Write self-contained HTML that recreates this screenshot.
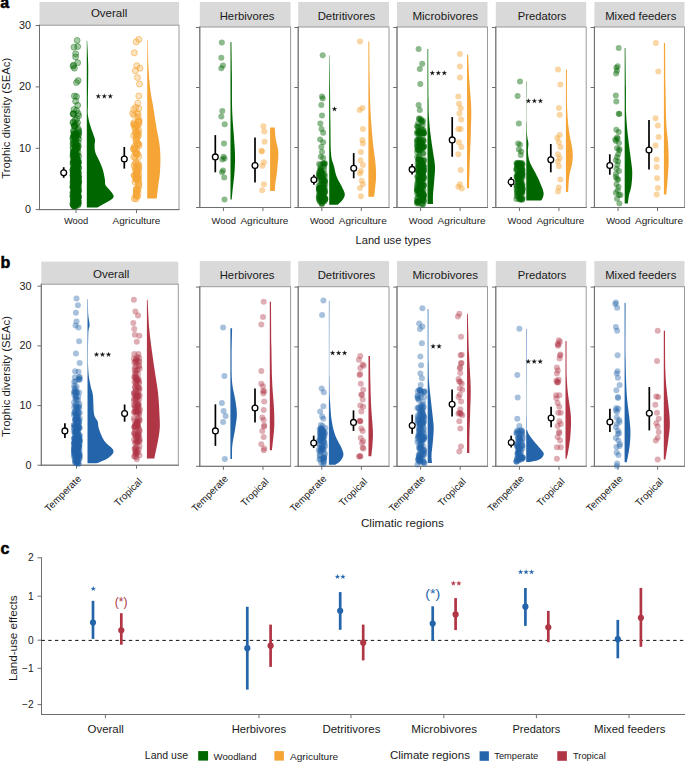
<!DOCTYPE html>
<html><head><meta charset="utf-8"><style>
html,body{margin:0;padding:0;background:#fff;width:685px;height:762px;overflow:hidden;}
svg{display:block;}
text{font-family:"Liberation Sans", sans-serif;}
</style></head><body>
<svg width="685" height="762" viewBox="0 0 685 762" font-family='"Liberation Sans", sans-serif'>
<rect width="685" height="762" fill="#fff"/>
<text x="0.2" y="8.4" font-size="16" text-anchor="start" font-weight="bold" fill="#000" stroke="#000" stroke-width="0.5">a</text>
<text x="0.6" y="267.7" font-size="16" text-anchor="start" font-weight="bold" fill="#000" stroke="#000" stroke-width="0.5">b</text>
<text x="0.6" y="554.2" font-size="16" text-anchor="start" font-weight="bold" fill="#000" stroke="#000" stroke-width="0.5">c</text>
<rect x="39.5" y="2" width="139.5" height="23.2" fill="#d9d9d9"/>
<text x="109.1" y="17.1" font-size="11.3" text-anchor="middle" font-weight="normal" fill="#1a1a1a"  textLength="36.4" lengthAdjust="spacingAndGlyphs">Overall</text>
<rect x="39.5" y="25.2" width="139.5" height="184.4" fill="none" stroke="#9a9a9a" stroke-width="1"/>
<line x1="39.5" y1="24.7" x2="39.5" y2="210.1" stroke="#6e6e6e" stroke-width="1" />
<line x1="39" y1="209.6" x2="179.5" y2="209.6" stroke="#6e6e6e" stroke-width="1" />
<line x1="35.7" y1="25.5" x2="39.5" y2="25.5" stroke="#6e6e6e" stroke-width="1" />
<line x1="35.7" y1="86.9" x2="39.5" y2="86.9" stroke="#6e6e6e" stroke-width="1" />
<line x1="35.7" y1="148.3" x2="39.5" y2="148.3" stroke="#6e6e6e" stroke-width="1" />
<line x1="35.7" y1="209.6" x2="39.5" y2="209.6" stroke="#6e6e6e" stroke-width="1" />
<line x1="76" y1="209.6" x2="76" y2="213.1" stroke="#6e6e6e" stroke-width="1" />
<line x1="136.5" y1="209.6" x2="136.5" y2="213.1" stroke="#6e6e6e" stroke-width="1" />
<text x="30.9" y="28.9" font-size="10.8" text-anchor="end" font-weight="normal" fill="#1a1a1a" >30</text>
<text x="30.9" y="90.3" font-size="10.8" text-anchor="end" font-weight="normal" fill="#1a1a1a" >20</text>
<text x="30.9" y="151.7" font-size="10.8" text-anchor="end" font-weight="normal" fill="#1a1a1a" >10</text>
<text x="30.9" y="213" font-size="10.8" text-anchor="end" font-weight="normal" fill="#1a1a1a" >0</text>
<text transform="translate(9.6,118.3) rotate(-90)" font-size="11.4" text-anchor="middle" fill="#1a1a1a" textLength="121" lengthAdjust="spacingAndGlyphs">Trophic diversity (SEAc)</text>
<rect x="199.8" y="2" width="90.8" height="25" fill="#d9d9d9"/>
<text x="247.1" y="19.6" font-size="11.3" text-anchor="middle" font-weight="normal" fill="#1a1a1a"  textLength="54.8" lengthAdjust="spacingAndGlyphs">Herbivores</text>
<rect x="199.8" y="27" width="90.8" height="180.5" fill="none" stroke="#9a9a9a" stroke-width="1"/>
<line x1="199.8" y1="26.5" x2="199.8" y2="208" stroke="#6e6e6e" stroke-width="1" />
<line x1="199.3" y1="207.5" x2="291.1" y2="207.5" stroke="#6e6e6e" stroke-width="1" />
<line x1="196" y1="27.5" x2="199.8" y2="27.5" stroke="#6e6e6e" stroke-width="1" />
<line x1="196" y1="87.5" x2="199.8" y2="87.5" stroke="#6e6e6e" stroke-width="1" />
<line x1="196" y1="147.5" x2="199.8" y2="147.5" stroke="#6e6e6e" stroke-width="1" />
<line x1="196" y1="207.5" x2="199.8" y2="207.5" stroke="#6e6e6e" stroke-width="1" />
<line x1="223.4" y1="207.5" x2="223.4" y2="211" stroke="#6e6e6e" stroke-width="1" />
<line x1="262.9" y1="207.5" x2="262.9" y2="211" stroke="#6e6e6e" stroke-width="1" />
<text x="223.7" y="223.9" font-size="9.6" text-anchor="middle" font-weight="normal" fill="#1a1a1a"  textLength="24.3" lengthAdjust="spacingAndGlyphs">Wood</text>
<text x="264.4" y="223.9" font-size="9.9" text-anchor="middle" font-weight="normal" fill="#1a1a1a"  textLength="48" lengthAdjust="spacingAndGlyphs">Agriculture</text>
<rect x="298.2" y="2" width="90.8" height="25" fill="#d9d9d9"/>
<text x="346.4" y="19.6" font-size="11.3" text-anchor="middle" font-weight="normal" fill="#1a1a1a"  textLength="57.5" lengthAdjust="spacingAndGlyphs">Detritivores</text>
<rect x="298.2" y="27" width="90.8" height="180.5" fill="none" stroke="#9a9a9a" stroke-width="1"/>
<line x1="298.2" y1="26.5" x2="298.2" y2="208" stroke="#6e6e6e" stroke-width="1" />
<line x1="297.7" y1="207.5" x2="389.5" y2="207.5" stroke="#6e6e6e" stroke-width="1" />
<line x1="294.4" y1="27.5" x2="298.2" y2="27.5" stroke="#6e6e6e" stroke-width="1" />
<line x1="294.4" y1="87.5" x2="298.2" y2="87.5" stroke="#6e6e6e" stroke-width="1" />
<line x1="294.4" y1="147.5" x2="298.2" y2="147.5" stroke="#6e6e6e" stroke-width="1" />
<line x1="294.4" y1="207.5" x2="298.2" y2="207.5" stroke="#6e6e6e" stroke-width="1" />
<line x1="321.8" y1="207.5" x2="321.8" y2="211" stroke="#6e6e6e" stroke-width="1" />
<line x1="361.3" y1="207.5" x2="361.3" y2="211" stroke="#6e6e6e" stroke-width="1" />
<text x="322.1" y="223.9" font-size="9.6" text-anchor="middle" font-weight="normal" fill="#1a1a1a"  textLength="24.3" lengthAdjust="spacingAndGlyphs">Wood</text>
<text x="362.8" y="223.9" font-size="9.9" text-anchor="middle" font-weight="normal" fill="#1a1a1a"  textLength="48" lengthAdjust="spacingAndGlyphs">Agriculture</text>
<rect x="397" y="2" width="90.5" height="25" fill="#d9d9d9"/>
<text x="445.25" y="19.6" font-size="11.3" text-anchor="middle" font-weight="normal" fill="#1a1a1a"  textLength="65.7" lengthAdjust="spacingAndGlyphs">Microbivores</text>
<rect x="397" y="27" width="90.5" height="180.5" fill="none" stroke="#9a9a9a" stroke-width="1"/>
<line x1="397" y1="26.5" x2="397" y2="208" stroke="#6e6e6e" stroke-width="1" />
<line x1="396.5" y1="207.5" x2="488" y2="207.5" stroke="#6e6e6e" stroke-width="1" />
<line x1="393.2" y1="27.5" x2="397" y2="27.5" stroke="#6e6e6e" stroke-width="1" />
<line x1="393.2" y1="87.5" x2="397" y2="87.5" stroke="#6e6e6e" stroke-width="1" />
<line x1="393.2" y1="147.5" x2="397" y2="147.5" stroke="#6e6e6e" stroke-width="1" />
<line x1="393.2" y1="207.5" x2="397" y2="207.5" stroke="#6e6e6e" stroke-width="1" />
<line x1="420.6" y1="207.5" x2="420.6" y2="211" stroke="#6e6e6e" stroke-width="1" />
<line x1="460.1" y1="207.5" x2="460.1" y2="211" stroke="#6e6e6e" stroke-width="1" />
<text x="420.9" y="223.9" font-size="9.6" text-anchor="middle" font-weight="normal" fill="#1a1a1a"  textLength="24.3" lengthAdjust="spacingAndGlyphs">Wood</text>
<text x="461.6" y="223.9" font-size="9.9" text-anchor="middle" font-weight="normal" fill="#1a1a1a"  textLength="48" lengthAdjust="spacingAndGlyphs">Agriculture</text>
<rect x="495.8" y="2" width="90.4" height="25" fill="#d9d9d9"/>
<text x="542.1" y="19.6" font-size="11.3" text-anchor="middle" font-weight="normal" fill="#1a1a1a"  textLength="48.5" lengthAdjust="spacingAndGlyphs">Predators</text>
<rect x="495.8" y="27" width="90.4" height="180.5" fill="none" stroke="#9a9a9a" stroke-width="1"/>
<line x1="495.8" y1="26.5" x2="495.8" y2="208" stroke="#6e6e6e" stroke-width="1" />
<line x1="495.3" y1="207.5" x2="586.7" y2="207.5" stroke="#6e6e6e" stroke-width="1" />
<line x1="492" y1="27.5" x2="495.8" y2="27.5" stroke="#6e6e6e" stroke-width="1" />
<line x1="492" y1="87.5" x2="495.8" y2="87.5" stroke="#6e6e6e" stroke-width="1" />
<line x1="492" y1="147.5" x2="495.8" y2="147.5" stroke="#6e6e6e" stroke-width="1" />
<line x1="492" y1="207.5" x2="495.8" y2="207.5" stroke="#6e6e6e" stroke-width="1" />
<line x1="519.4" y1="207.5" x2="519.4" y2="211" stroke="#6e6e6e" stroke-width="1" />
<line x1="558.9" y1="207.5" x2="558.9" y2="211" stroke="#6e6e6e" stroke-width="1" />
<text x="519.7" y="223.9" font-size="9.6" text-anchor="middle" font-weight="normal" fill="#1a1a1a"  textLength="24.3" lengthAdjust="spacingAndGlyphs">Wood</text>
<text x="560.4" y="223.9" font-size="9.9" text-anchor="middle" font-weight="normal" fill="#1a1a1a"  textLength="48" lengthAdjust="spacingAndGlyphs">Agriculture</text>
<rect x="594.4" y="2" width="90.1" height="25" fill="#d9d9d9"/>
<text x="640.75" y="19.6" font-size="11.3" text-anchor="middle" font-weight="normal" fill="#1a1a1a"  textLength="71.1" lengthAdjust="spacingAndGlyphs">Mixed feeders</text>
<rect x="594.4" y="27" width="90.1" height="180.5" fill="none" stroke="#9a9a9a" stroke-width="1"/>
<line x1="594.4" y1="26.5" x2="594.4" y2="208" stroke="#6e6e6e" stroke-width="1" />
<line x1="593.9" y1="207.5" x2="685" y2="207.5" stroke="#6e6e6e" stroke-width="1" />
<line x1="590.6" y1="27.5" x2="594.4" y2="27.5" stroke="#6e6e6e" stroke-width="1" />
<line x1="590.6" y1="87.5" x2="594.4" y2="87.5" stroke="#6e6e6e" stroke-width="1" />
<line x1="590.6" y1="147.5" x2="594.4" y2="147.5" stroke="#6e6e6e" stroke-width="1" />
<line x1="590.6" y1="207.5" x2="594.4" y2="207.5" stroke="#6e6e6e" stroke-width="1" />
<line x1="618" y1="207.5" x2="618" y2="211" stroke="#6e6e6e" stroke-width="1" />
<line x1="657.5" y1="207.5" x2="657.5" y2="211" stroke="#6e6e6e" stroke-width="1" />
<text x="618.3" y="223.9" font-size="9.6" text-anchor="middle" font-weight="normal" fill="#1a1a1a"  textLength="24.3" lengthAdjust="spacingAndGlyphs">Wood</text>
<text x="659" y="223.9" font-size="9.9" text-anchor="middle" font-weight="normal" fill="#1a1a1a"  textLength="48" lengthAdjust="spacingAndGlyphs">Agriculture</text>
<text x="76" y="223.9" font-size="9.6" text-anchor="middle" font-weight="normal" fill="#1a1a1a"  textLength="24.2" lengthAdjust="spacingAndGlyphs">Wood</text>
<text x="136.5" y="223.9" font-size="9.9" text-anchor="middle" font-weight="normal" fill="#1a1a1a"  textLength="47.8" lengthAdjust="spacingAndGlyphs">Agriculture</text>
<text x="393.3" y="243.5" font-size="11.1" text-anchor="middle" font-weight="normal" fill="#1a1a1a"  textLength="75.5" lengthAdjust="spacingAndGlyphs">Land use types</text>
<path d="M86.8,40.7 L87.2,40.7 C87.37,44.92 88.08,55.85 88.2,66 C88.32,76.15 87.95,93.48 87.9,101.6 C87.85,109.72 87.53,110.8 87.9,114.7 C88.27,118.6 89.23,121.82 90.1,125 C90.97,128.18 92.28,131.35 93.1,133.8 C93.92,136.25 94.75,137.73 95,139.7 C95.25,141.67 94.55,143.52 94.6,145.6 C94.65,147.68 94.57,149.75 95.3,152.2 C96.03,154.65 97.78,157.48 99,160.3 C100.22,163.12 101.62,165.92 102.6,169.1 C103.58,172.28 104.4,176.7 104.9,179.4 C105.4,182.1 104.63,183.33 105.6,185.3 C106.57,187.27 109.35,189.37 110.7,191.2 C112.05,193.03 113.7,194.83 113.7,196.3 C113.7,197.77 112.55,198.65 110.7,200 C108.85,201.35 104.8,203.17 102.6,204.4 C100.4,205.63 98.35,206.9 97.5,207.4 L86.8,207.4 Z" fill="#006600"/>
<g fill="#006600" fill-opacity="0.35" stroke="#006600" stroke-opacity="0.55" stroke-width="0.7"><circle cx="77.1" cy="40.4" r="3"/><circle cx="74" cy="47.2" r="3"/><circle cx="77.7" cy="46.6" r="3"/><circle cx="75.6" cy="53.8" r="3"/><circle cx="75.6" cy="56.9" r="3"/><circle cx="77.7" cy="62.7" r="3"/><circle cx="73.6" cy="65.1" r="3"/><circle cx="74.4" cy="68.2" r="3"/><circle cx="73" cy="66.2" r="3"/><circle cx="78.1" cy="80.6" r="3"/><circle cx="76.5" cy="82.6" r="3"/><circle cx="74.4" cy="96" r="3"/><circle cx="76.5" cy="96.6" r="3"/><circle cx="75.6" cy="101.2" r="3"/><circle cx="77.7" cy="105.3" r="3"/><circle cx="74" cy="109.4" r="3"/><circle cx="76.5" cy="110.4" r="3"/><circle cx="73" cy="113.5" r="3"/><circle cx="78.1" cy="113.5" r="3"/><circle cx="75.77" cy="184.18" r="3"/><circle cx="72.97" cy="186.53" r="3"/><circle cx="77.37" cy="190.98" r="3"/><circle cx="78.47" cy="180.19" r="3"/><circle cx="72.95" cy="197.18" r="3"/><circle cx="75.33" cy="148.02" r="3"/><circle cx="74.11" cy="134.03" r="3"/><circle cx="72.93" cy="155.43" r="3"/><circle cx="76.65" cy="191.15" r="3"/><circle cx="74.8" cy="193.26" r="3"/><circle cx="77.78" cy="200.49" r="3"/><circle cx="76.33" cy="175.34" r="3"/><circle cx="75.83" cy="195.39" r="3"/><circle cx="74.26" cy="167.66" r="3"/><circle cx="73.84" cy="187.35" r="3"/><circle cx="75.43" cy="175.74" r="3"/><circle cx="75.74" cy="161.23" r="3"/><circle cx="73.82" cy="168.06" r="3"/><circle cx="77.96" cy="184.81" r="3"/><circle cx="75.55" cy="202.01" r="3"/><circle cx="77.5" cy="202.45" r="3"/><circle cx="78.02" cy="152.27" r="3"/><circle cx="75.83" cy="165.86" r="3"/><circle cx="74.88" cy="157.83" r="3"/><circle cx="72.97" cy="169.88" r="3"/><circle cx="76.31" cy="133.7" r="3"/><circle cx="77.58" cy="193.37" r="3"/><circle cx="77.85" cy="189.15" r="3"/><circle cx="72.9" cy="175.61" r="3"/><circle cx="76.55" cy="135.58" r="3"/><circle cx="73.76" cy="144.55" r="3"/><circle cx="74.44" cy="161.84" r="3"/><circle cx="74.73" cy="179.25" r="3"/><circle cx="75.12" cy="156.77" r="3"/><circle cx="73.45" cy="151.78" r="3"/><circle cx="74.05" cy="197.03" r="3"/><circle cx="73.68" cy="113.97" r="3"/><circle cx="77.03" cy="179.93" r="3"/><circle cx="74.12" cy="176.09" r="3"/><circle cx="76.69" cy="160.82" r="3"/><circle cx="74.31" cy="182.29" r="3"/><circle cx="73.83" cy="202.93" r="3"/><circle cx="75.07" cy="178.53" r="3"/><circle cx="76.84" cy="144.78" r="3"/><circle cx="73.43" cy="152.91" r="3"/><circle cx="75.8" cy="174.93" r="3"/><circle cx="74.01" cy="197.02" r="3"/><circle cx="74.08" cy="185.97" r="3"/><circle cx="78.09" cy="200.09" r="3"/><circle cx="78.71" cy="176.93" r="3"/><circle cx="77.35" cy="198.09" r="3"/><circle cx="76.11" cy="195.85" r="3"/><circle cx="73.24" cy="121.85" r="3"/><circle cx="77.77" cy="193.85" r="3"/><circle cx="76.22" cy="185.89" r="3"/><circle cx="74.4" cy="133.14" r="3"/><circle cx="78.35" cy="196.18" r="3"/><circle cx="77.52" cy="155.26" r="3"/><circle cx="76.82" cy="190.22" r="3"/><circle cx="74.24" cy="195.64" r="3"/><circle cx="73.49" cy="205.38" r="3"/><circle cx="78.26" cy="182.31" r="3"/><circle cx="74.32" cy="197.92" r="3"/><circle cx="76.71" cy="157.08" r="3"/><circle cx="78.7" cy="115.74" r="3"/><circle cx="73.18" cy="154.51" r="3"/><circle cx="74.09" cy="203.65" r="3"/><circle cx="76.05" cy="174.54" r="3"/><circle cx="73.29" cy="141.04" r="3"/><circle cx="74.62" cy="192.05" r="3"/><circle cx="74.26" cy="135.16" r="3"/><circle cx="77.55" cy="172.04" r="3"/><circle cx="78.5" cy="187.13" r="3"/><circle cx="75.89" cy="142.22" r="3"/><circle cx="78.16" cy="198.88" r="3"/><circle cx="78.24" cy="197.34" r="3"/><circle cx="76.94" cy="191.45" r="3"/><circle cx="73.19" cy="175.11" r="3"/><circle cx="75.17" cy="192.45" r="3"/><circle cx="72.95" cy="144" r="3"/><circle cx="76.22" cy="173.09" r="3"/><circle cx="72.84" cy="169.88" r="3"/><circle cx="76.92" cy="173.32" r="3"/><circle cx="75.77" cy="181.12" r="3"/><circle cx="75.27" cy="157.25" r="3"/><circle cx="76.68" cy="198.72" r="3"/><circle cx="76.96" cy="195.44" r="3"/><circle cx="77.01" cy="192.23" r="3"/><circle cx="77.94" cy="181.59" r="3"/><circle cx="76.23" cy="196.73" r="3"/><circle cx="76.89" cy="183.61" r="3"/><circle cx="75.89" cy="179.77" r="3"/><circle cx="74.41" cy="188.35" r="3"/><circle cx="77" cy="191.56" r="3"/><circle cx="77.62" cy="203.78" r="3"/><circle cx="74.75" cy="152.91" r="3"/><circle cx="76.4" cy="202.67" r="3"/><circle cx="74.57" cy="150.58" r="3"/><circle cx="76.57" cy="153.46" r="3"/><circle cx="76.31" cy="163.25" r="3"/><circle cx="75.74" cy="204.01" r="3"/><circle cx="76.22" cy="192.86" r="3"/><circle cx="73.45" cy="148.22" r="3"/><circle cx="77.28" cy="188.31" r="3"/><circle cx="75.82" cy="166.11" r="3"/><circle cx="75.2" cy="154.48" r="3"/><circle cx="75.75" cy="186" r="3"/><circle cx="74.02" cy="173.2" r="3"/><circle cx="78.72" cy="190.38" r="3"/><circle cx="73.82" cy="205.33" r="3"/><circle cx="74.96" cy="170.59" r="3"/><circle cx="77.2" cy="193.39" r="3"/><circle cx="75.76" cy="196.85" r="3"/><circle cx="76.69" cy="182.48" r="3"/><circle cx="76.58" cy="171.5" r="3"/><circle cx="74.39" cy="169.22" r="3"/><circle cx="77.8" cy="163.43" r="3"/><circle cx="74.93" cy="182.38" r="3"/><circle cx="75.84" cy="174.07" r="3"/><circle cx="75.21" cy="201.41" r="3"/><circle cx="74.05" cy="177.1" r="3"/><circle cx="77.78" cy="137.43" r="3"/><circle cx="75.87" cy="161.44" r="3"/><circle cx="76.72" cy="181.62" r="3"/><circle cx="74.13" cy="193.9" r="3"/><circle cx="78.2" cy="191.74" r="3"/><circle cx="75.39" cy="170.82" r="3"/><circle cx="74.37" cy="180.82" r="3"/><circle cx="73.63" cy="161.76" r="3"/><circle cx="77.31" cy="179.64" r="3"/><circle cx="73.44" cy="179.9" r="3"/><circle cx="73.01" cy="196" r="3"/><circle cx="74.85" cy="203.11" r="3"/><circle cx="76.96" cy="191.18" r="3"/><circle cx="73.81" cy="158.78" r="3"/><circle cx="75.1" cy="193.04" r="3"/><circle cx="78.28" cy="183.68" r="3"/><circle cx="75.08" cy="174.82" r="3"/><circle cx="74.44" cy="191.44" r="3"/><circle cx="72.97" cy="123.1" r="3"/><circle cx="76.59" cy="174.66" r="3"/><circle cx="78.41" cy="134.97" r="3"/><circle cx="76.43" cy="167.8" r="3"/><circle cx="73.16" cy="164.94" r="3"/><circle cx="73.12" cy="192.76" r="3"/><circle cx="78.71" cy="156.34" r="3"/><circle cx="75.17" cy="153.9" r="3"/><circle cx="75.11" cy="120.11" r="3"/><circle cx="73.58" cy="181.23" r="3"/><circle cx="75.35" cy="192.88" r="3"/><circle cx="76.72" cy="167.2" r="3"/><circle cx="78.18" cy="178.27" r="3"/><circle cx="73.74" cy="190.59" r="3"/><circle cx="77.69" cy="166.33" r="3"/><circle cx="74.59" cy="173.53" r="3"/><circle cx="75.96" cy="182.73" r="3"/><circle cx="73.61" cy="199.16" r="3"/><circle cx="75.59" cy="172.81" r="3"/><circle cx="73.81" cy="204.59" r="3"/><circle cx="73.4" cy="180.79" r="3"/><circle cx="73.44" cy="163.57" r="3"/><circle cx="73.24" cy="161.74" r="3"/><circle cx="73.84" cy="192.38" r="3"/><circle cx="75.01" cy="193.44" r="3"/><circle cx="74.5" cy="192.1" r="3"/><circle cx="77.99" cy="196.23" r="3"/><circle cx="76.85" cy="196.37" r="3"/><circle cx="77.68" cy="187.43" r="3"/><circle cx="74.01" cy="206.33" r="3"/><circle cx="73.04" cy="187.24" r="3"/><circle cx="73.94" cy="192.43" r="3"/><circle cx="76.58" cy="202.09" r="3"/><circle cx="75.21" cy="165.48" r="3"/><circle cx="75.1" cy="199.43" r="3"/><circle cx="75.54" cy="157.49" r="3"/><circle cx="73.83" cy="151.24" r="3"/><circle cx="78.79" cy="167.72" r="3"/><circle cx="73.58" cy="179.68" r="3"/><circle cx="72.96" cy="203.34" r="3"/><circle cx="77.14" cy="201.98" r="3"/><circle cx="76.47" cy="190.85" r="3"/><circle cx="78.48" cy="162.51" r="3"/><circle cx="76.12" cy="203.63" r="3"/><circle cx="73.32" cy="186.32" r="3"/><circle cx="77.92" cy="197.53" r="3"/><circle cx="75.92" cy="197.56" r="3"/><circle cx="75.75" cy="205.75" r="3"/><circle cx="74.09" cy="196.58" r="3"/><circle cx="75.72" cy="183.79" r="3"/><circle cx="76.04" cy="203.54" r="3"/><circle cx="74.45" cy="191.61" r="3"/><circle cx="73.58" cy="178.74" r="3"/><circle cx="75.01" cy="137.24" r="3"/><circle cx="76.43" cy="156.47" r="3"/><circle cx="73.15" cy="177.6" r="3"/><circle cx="75.76" cy="196.25" r="3"/><circle cx="73.64" cy="143.19" r="3"/><circle cx="76.03" cy="136.24" r="3"/><circle cx="76.91" cy="178.43" r="3"/><circle cx="76.21" cy="133.38" r="3"/><circle cx="72.83" cy="195.56" r="3"/><circle cx="74.15" cy="170.15" r="3"/><circle cx="74.78" cy="160.99" r="3"/><circle cx="73.05" cy="184.76" r="3"/><circle cx="72.99" cy="137.45" r="3"/><circle cx="74.25" cy="200.24" r="3"/><circle cx="75.89" cy="176.23" r="3"/><circle cx="76.19" cy="170.65" r="3"/><circle cx="78.19" cy="162.63" r="3"/><circle cx="73.12" cy="171.79" r="3"/><circle cx="74.09" cy="160.06" r="3"/><circle cx="75.22" cy="162.1" r="3"/><circle cx="76.07" cy="173.84" r="3"/><circle cx="76.91" cy="191.74" r="3"/><circle cx="78.28" cy="176.49" r="3"/><circle cx="78.13" cy="192.16" r="3"/><circle cx="72.85" cy="187.54" r="3"/><circle cx="76.17" cy="172.76" r="3"/><circle cx="77.48" cy="195.43" r="3"/><circle cx="78.4" cy="168.56" r="3"/><circle cx="74.43" cy="160.01" r="3"/><circle cx="77.65" cy="189.46" r="3"/><circle cx="77.46" cy="145.8" r="3"/><circle cx="78.08" cy="198.59" r="3"/><circle cx="77.7" cy="147.56" r="3"/><circle cx="73.14" cy="172" r="3"/><circle cx="77.06" cy="158.06" r="3"/><circle cx="78.18" cy="204.16" r="3"/><circle cx="75.63" cy="186.14" r="3"/><circle cx="75.44" cy="180.35" r="3"/><circle cx="73.7" cy="199.58" r="3"/><circle cx="72.96" cy="147.54" r="3"/><circle cx="77.59" cy="184.39" r="3"/><circle cx="78.63" cy="139.26" r="3"/><circle cx="75.14" cy="198.25" r="3"/><circle cx="74.23" cy="174.58" r="3"/><circle cx="76.31" cy="202.75" r="3"/><circle cx="77.57" cy="160.49" r="3"/><circle cx="77" cy="200.43" r="3"/><circle cx="76.02" cy="177.26" r="3"/><circle cx="78.67" cy="172.62" r="3"/><circle cx="78.53" cy="134.6" r="3"/><circle cx="75.29" cy="141.48" r="3"/><circle cx="76.01" cy="178.86" r="3"/><circle cx="75.17" cy="151.46" r="3"/><circle cx="77.7" cy="148.77" r="3"/><circle cx="76.2" cy="146.02" r="3"/><circle cx="76.53" cy="191.84" r="3"/><circle cx="73.66" cy="181.08" r="3"/><circle cx="74.32" cy="126.08" r="3"/><circle cx="75.38" cy="162.8" r="3"/><circle cx="76.12" cy="194.4" r="3"/><circle cx="76.55" cy="148.98" r="3"/><circle cx="76.03" cy="167.85" r="3"/><circle cx="76.77" cy="148.07" r="3"/><circle cx="77.83" cy="205.26" r="3"/><circle cx="73.15" cy="183.32" r="3"/><circle cx="77.67" cy="190.3" r="3"/><circle cx="73.42" cy="202.4" r="3"/><circle cx="74.28" cy="192.7" r="3"/><circle cx="73.53" cy="136.06" r="3"/><circle cx="76.63" cy="169.98" r="3"/><circle cx="73.39" cy="151.8" r="3"/><circle cx="76.16" cy="190.53" r="3"/><circle cx="74.09" cy="154.9" r="3"/><circle cx="78.35" cy="189.76" r="3"/><circle cx="76.87" cy="197.8" r="3"/><circle cx="75.86" cy="168.26" r="3"/><circle cx="74.96" cy="161.31" r="3"/><circle cx="78.24" cy="185.41" r="3"/><circle cx="78.24" cy="128.71" r="3"/><circle cx="75.81" cy="138.98" r="3"/><circle cx="78.23" cy="173.06" r="3"/><circle cx="73.7" cy="167.63" r="3"/><circle cx="73.48" cy="186.74" r="3"/><circle cx="78.21" cy="166.23" r="3"/><circle cx="76.61" cy="167.07" r="3"/><circle cx="75.8" cy="192.05" r="3"/><circle cx="73.76" cy="188.58" r="3"/><circle cx="78.18" cy="142.72" r="3"/><circle cx="74.7" cy="126.01" r="3"/><circle cx="73.18" cy="169.54" r="3"/><circle cx="73.82" cy="170.46" r="3"/><circle cx="73.3" cy="200.47" r="3"/><circle cx="74.46" cy="136.84" r="3"/><circle cx="73.6" cy="199.49" r="3"/><circle cx="74.69" cy="182.64" r="3"/><circle cx="73.58" cy="130.66" r="3"/><circle cx="74.4" cy="167.45" r="3"/><circle cx="78.57" cy="130.55" r="3"/><circle cx="78.4" cy="180.35" r="3"/><circle cx="77.39" cy="164.16" r="3"/><circle cx="75.15" cy="158.35" r="3"/><circle cx="73.89" cy="173.75" r="3"/><circle cx="78.4" cy="176.68" r="3"/><circle cx="73.43" cy="114.19" r="3"/><circle cx="77.05" cy="201.98" r="3"/><circle cx="75.32" cy="144.47" r="3"/><circle cx="77.94" cy="176.31" r="3"/><circle cx="75.95" cy="190.63" r="3"/><circle cx="74.66" cy="169.4" r="3"/><circle cx="75.55" cy="169.14" r="3"/><circle cx="75.46" cy="196.29" r="3"/><circle cx="75.1" cy="177.8" r="3"/><circle cx="72.89" cy="182.12" r="3"/><circle cx="73.52" cy="131.71" r="3"/><circle cx="74.2" cy="202.67" r="3"/><circle cx="75.32" cy="146.57" r="3"/><circle cx="78" cy="161.75" r="3"/><circle cx="76.51" cy="200.59" r="3"/><circle cx="75.17" cy="171.51" r="3"/><circle cx="78.74" cy="131.86" r="3"/><circle cx="75.02" cy="175.81" r="3"/><circle cx="76.42" cy="160.5" r="3"/><circle cx="76.09" cy="167.15" r="3"/><circle cx="74.66" cy="138.09" r="3"/><circle cx="75.04" cy="205.52" r="3"/><circle cx="75.89" cy="133.79" r="3"/><circle cx="78.34" cy="160.32" r="3"/><circle cx="72.82" cy="204.47" r="3"/><circle cx="72.85" cy="192.56" r="3"/><circle cx="72.91" cy="162.84" r="3"/><circle cx="74.2" cy="164.04" r="3"/><circle cx="75.24" cy="154.77" r="3"/><circle cx="78.23" cy="132.64" r="3"/><circle cx="77.8" cy="194.98" r="3"/><circle cx="74.52" cy="126.18" r="3"/><circle cx="74.01" cy="174.82" r="3"/><circle cx="78.52" cy="182.51" r="3"/><circle cx="74.52" cy="188.69" r="3"/><circle cx="74.31" cy="135.5" r="3"/><circle cx="77.99" cy="174.33" r="3"/><circle cx="76.43" cy="194.91" r="3"/><circle cx="77.59" cy="122.76" r="3"/><circle cx="78.32" cy="195.68" r="3"/><circle cx="75.02" cy="199.96" r="3"/><circle cx="75.18" cy="155.12" r="3"/><circle cx="73.56" cy="156.54" r="3"/><circle cx="73.7" cy="194.37" r="3"/><circle cx="76.47" cy="124.78" r="3"/><circle cx="76.91" cy="198.6" r="3"/><circle cx="74.94" cy="180.62" r="3"/><circle cx="78.02" cy="202.95" r="3"/><circle cx="76.56" cy="193.08" r="3"/><circle cx="73.52" cy="174.92" r="3"/><circle cx="74.43" cy="201.64" r="3"/><circle cx="75.22" cy="192.13" r="3"/><circle cx="78.45" cy="146" r="3"/><circle cx="73.38" cy="177.94" r="3"/><circle cx="74.17" cy="196.14" r="3"/><circle cx="78.22" cy="197.15" r="3"/><circle cx="78.03" cy="163.21" r="3"/><circle cx="75.87" cy="166.89" r="3"/><circle cx="74.05" cy="184.1" r="3"/><circle cx="76.66" cy="193.96" r="3"/><circle cx="73.11" cy="157.39" r="3"/><circle cx="74.71" cy="124.81" r="3"/><circle cx="78.78" cy="182.07" r="3"/><circle cx="75.29" cy="166.14" r="3"/><circle cx="76.75" cy="118.76" r="3"/><circle cx="73.88" cy="193.19" r="3"/><circle cx="74.64" cy="190.83" r="3"/><circle cx="74.94" cy="199.62" r="3"/><circle cx="76.26" cy="173.82" r="3"/><circle cx="76.18" cy="198.66" r="3"/><circle cx="76.12" cy="158.98" r="3"/><circle cx="76.93" cy="189.64" r="3"/><circle cx="73.33" cy="174.59" r="3"/><circle cx="73.77" cy="183.63" r="3"/><circle cx="78.62" cy="202.17" r="3"/><circle cx="76.73" cy="194.83" r="3"/><circle cx="74.37" cy="205.89" r="3"/><circle cx="73.88" cy="205.69" r="3"/><circle cx="74.65" cy="198.16" r="3"/><circle cx="75.55" cy="164.39" r="3"/><circle cx="76.49" cy="164.18" r="3"/><circle cx="77.52" cy="202.26" r="3"/><circle cx="72.84" cy="138.7" r="3"/><circle cx="75.08" cy="204.73" r="3"/><circle cx="77.69" cy="170.41" r="3"/></g>
<line x1="63.7" y1="167.2" x2="63.7" y2="177.8" stroke="#000" stroke-width="1.7" />
<circle cx="63.7" cy="172.8" r="2.9" fill="#fff" stroke="#000" stroke-width="1.3"/>
<path d="M147.2,40 L147.7,40 C147.82,44.3 147.97,57.52 148.4,65.8 C148.83,74.08 149.5,82.93 150.3,89.7 C151.1,96.47 152.23,100.43 153.2,106.4 C154.17,112.37 155.1,119.52 156.1,125.5 C157.1,131.48 158.48,137.12 159.2,142.3 C159.92,147.48 160.28,151.43 160.4,156.6 C160.52,161.77 160.3,168.13 159.9,173.3 C159.5,178.47 158.52,183.42 158,187.6 C157.48,191.78 157,196.6 156.8,198.4 L147.2,198.4 Z" fill="#f5a536"/>
<g fill="#f5a536" fill-opacity="0.3" stroke="#f5a536" stroke-opacity="0.85" stroke-width="0.7"><circle cx="138.8" cy="39.4" r="3"/><circle cx="136.2" cy="41.9" r="3"/><circle cx="134.3" cy="52.8" r="3"/><circle cx="136.8" cy="65.8" r="3"/><circle cx="139.9" cy="68.2" r="3"/><circle cx="135.3" cy="70.7" r="3"/><circle cx="137.4" cy="77.5" r="3"/><circle cx="139.5" cy="84.1" r="3"/><circle cx="138.8" cy="96" r="3"/><circle cx="137.8" cy="103.2" r="3"/><circle cx="135.7" cy="107.3" r="3"/><circle cx="138.8" cy="108.4" r="3"/><circle cx="133.7" cy="109.4" r="3"/><circle cx="136.8" cy="113.5" r="3"/><circle cx="132.7" cy="113.5" r="3"/><circle cx="138.18" cy="116.95" r="3"/><circle cx="135.23" cy="176.4" r="3"/><circle cx="136.75" cy="165.02" r="3"/><circle cx="135.7" cy="125.86" r="3"/><circle cx="135.99" cy="195.07" r="3"/><circle cx="133.65" cy="135.47" r="3"/><circle cx="135.63" cy="152.68" r="3"/><circle cx="136.64" cy="190.03" r="3"/><circle cx="135.32" cy="132.66" r="3"/><circle cx="139.09" cy="123.96" r="3"/><circle cx="138.5" cy="171.02" r="3"/><circle cx="138.58" cy="181.72" r="3"/><circle cx="135.48" cy="178.75" r="3"/><circle cx="136.47" cy="174.58" r="3"/><circle cx="136.3" cy="154.88" r="3"/><circle cx="138.44" cy="184.76" r="3"/><circle cx="136.68" cy="190.72" r="3"/><circle cx="136.23" cy="192.53" r="3"/><circle cx="137.42" cy="131.41" r="3"/><circle cx="136.4" cy="173.79" r="3"/><circle cx="135.25" cy="169" r="3"/><circle cx="138.73" cy="130.18" r="3"/><circle cx="138.09" cy="166.54" r="3"/><circle cx="134.57" cy="175.52" r="3"/><circle cx="137.16" cy="177.17" r="3"/><circle cx="138.4" cy="135.9" r="3"/><circle cx="138.28" cy="121.3" r="3"/><circle cx="138.43" cy="133.42" r="3"/><circle cx="133.68" cy="149.01" r="3"/><circle cx="137.27" cy="143.71" r="3"/><circle cx="138.05" cy="113.85" r="3"/><circle cx="137.37" cy="125.75" r="3"/><circle cx="139.04" cy="145.74" r="3"/><circle cx="135.43" cy="125.25" r="3"/><circle cx="134.13" cy="165.83" r="3"/><circle cx="136.01" cy="141.51" r="3"/><circle cx="138.55" cy="179.02" r="3"/><circle cx="137.45" cy="178.12" r="3"/><circle cx="137.2" cy="153.37" r="3"/><circle cx="136.01" cy="139.68" r="3"/><circle cx="136.78" cy="188.54" r="3"/><circle cx="134.31" cy="146.38" r="3"/><circle cx="136.89" cy="195.98" r="3"/><circle cx="136.62" cy="148.73" r="3"/><circle cx="133.69" cy="124.3" r="3"/><circle cx="137.06" cy="126.1" r="3"/><circle cx="138.73" cy="156.47" r="3"/><circle cx="135.99" cy="199.02" r="3"/><circle cx="137" cy="133.94" r="3"/><circle cx="134.94" cy="182.02" r="3"/><circle cx="133.53" cy="149.01" r="3"/><circle cx="134.12" cy="115.11" r="3"/><circle cx="134.06" cy="175.33" r="3"/><circle cx="134.72" cy="127.9" r="3"/><circle cx="135.23" cy="157.56" r="3"/><circle cx="138.58" cy="168.15" r="3"/><circle cx="135.93" cy="196.27" r="3"/><circle cx="133.79" cy="156.76" r="3"/><circle cx="134.51" cy="148.58" r="3"/><circle cx="138.66" cy="144.04" r="3"/><circle cx="139.01" cy="165.42" r="3"/><circle cx="137.34" cy="144.57" r="3"/><circle cx="138.21" cy="120.85" r="3"/><circle cx="136.03" cy="170.85" r="3"/><circle cx="134.67" cy="147.93" r="3"/><circle cx="135.09" cy="163.52" r="3"/><circle cx="135.69" cy="128.83" r="3"/><circle cx="135.71" cy="152.53" r="3"/><circle cx="133.95" cy="122.65" r="3"/><circle cx="138.87" cy="186.38" r="3"/><circle cx="137.19" cy="172.61" r="3"/><circle cx="136.29" cy="180.01" r="3"/><circle cx="137.97" cy="143.29" r="3"/><circle cx="136.17" cy="135.53" r="3"/><circle cx="136.24" cy="137.97" r="3"/><circle cx="137.3" cy="134.7" r="3"/><circle cx="138.08" cy="192.38" r="3"/><circle cx="139.09" cy="120.4" r="3"/><circle cx="133.87" cy="124.82" r="3"/><circle cx="134.22" cy="198.51" r="3"/><circle cx="137.26" cy="137.93" r="3"/><circle cx="136.43" cy="171.6" r="3"/><circle cx="138.82" cy="121.81" r="3"/><circle cx="136.39" cy="178.13" r="3"/><circle cx="138.51" cy="174.59" r="3"/><circle cx="135.76" cy="152.33" r="3"/><circle cx="135.97" cy="162.18" r="3"/><circle cx="136.36" cy="189.16" r="3"/><circle cx="137.48" cy="154.22" r="3"/><circle cx="136.15" cy="193.96" r="3"/><circle cx="137.68" cy="196.17" r="3"/><circle cx="138.27" cy="169.62" r="3"/><circle cx="135.76" cy="131.69" r="3"/><circle cx="136.1" cy="167.55" r="3"/><circle cx="137.14" cy="174.26" r="3"/><circle cx="138.78" cy="183.41" r="3"/><circle cx="138.57" cy="175.83" r="3"/><circle cx="138.07" cy="189.41" r="3"/><circle cx="137.67" cy="179.11" r="3"/><circle cx="138" cy="163.29" r="3"/></g>
<line x1="124.3" y1="147" x2="124.3" y2="168.6" stroke="#000" stroke-width="1.7" />
<circle cx="124.3" cy="159" r="2.9" fill="#fff" stroke="#000" stroke-width="1.3"/>
<polygon points="98.3,93.71 98.89,95.48 100.77,95.5 99.26,96.61 99.82,98.4 98.3,97.31 96.78,98.4 97.34,96.61 95.83,95.5 97.71,95.48" fill="#111" stroke="#111" stroke-width="0.15" stroke-linejoin="round"/>
<polygon points="104.3,93.71 104.89,95.48 106.77,95.5 105.26,96.61 105.82,98.4 104.3,97.31 102.78,98.4 103.34,96.61 101.83,95.5 103.71,95.48" fill="#111" stroke="#111" stroke-width="0.15" stroke-linejoin="round"/>
<polygon points="110.3,93.71 110.89,95.48 112.77,95.5 111.26,96.61 111.82,98.4 110.3,97.31 108.78,98.4 109.34,96.61 107.83,95.5 109.71,95.48" fill="#111" stroke="#111" stroke-width="0.15" stroke-linejoin="round"/>
<path d="M230.5,41.9 L231.4,41.9 C231.48,47.42 231.77,63.48 231.9,75 C232.03,86.52 231.88,101 232.2,111 C232.52,121 233.33,127.78 233.8,135 C234.27,142.22 234.87,148.3 235,154.3 C235.13,160.3 235,165 234.6,171 C234.2,177 233.08,185.57 232.6,190.3 C232.12,195.03 231.85,197.88 231.7,199.4 L230.5,199.4 Z" fill="#006600"/>
<g fill="#006600" fill-opacity="0.45"><circle cx="221.8" cy="42.6" r="3"/><circle cx="221.3" cy="57.7" r="3"/><circle cx="223" cy="65.4" r="3"/><circle cx="221.3" cy="68.3" r="3"/><circle cx="222.3" cy="111" r="3"/><circle cx="221.3" cy="116.6" r="3"/><circle cx="224.7" cy="124.3" r="3"/><circle cx="224" cy="143.5" r="3"/><circle cx="223.5" cy="156.7" r="3"/><circle cx="222.3" cy="159.6" r="3"/><circle cx="224.5" cy="158.6" r="3"/><circle cx="223" cy="170.6" r="3"/><circle cx="222" cy="172.3" r="3"/><circle cx="224.2" cy="177.6" r="3"/><circle cx="224.5" cy="199.4" r="3"/></g>
<line x1="215.3" y1="135.1" x2="215.3" y2="172.3" stroke="#000" stroke-width="1.7" />
<circle cx="215.3" cy="156.9" r="2.9" fill="#fff" stroke="#000" stroke-width="1.3"/>
<path d="M270.1,127.4 L274.7,127.4 C274.9,129.48 275.3,135.82 275.9,139.9 C276.5,143.98 278.1,146.7 278.3,151.9 C278.5,157.1 277.58,165.9 277.1,171.1 C276.62,176.3 275.77,179.78 275.4,183.1 C275.03,186.42 274.98,189.68 274.9,191 L270.1,191 Z" fill="#f5a536"/>
<g fill="#f5a536" fill-opacity="0.45"><circle cx="263.4" cy="126.2" r="3"/><circle cx="264.3" cy="131.5" r="3"/><circle cx="264.6" cy="141.8" r="3"/><circle cx="261.5" cy="150.7" r="3"/><circle cx="262" cy="151.5" r="3"/><circle cx="263.9" cy="162.2" r="3"/><circle cx="262.4" cy="165.8" r="3"/><circle cx="263.9" cy="184.3" r="3"/><circle cx="262.2" cy="190.3" r="3"/></g>
<line x1="255" y1="137.5" x2="255" y2="182.4" stroke="#000" stroke-width="1.7" />
<circle cx="255" cy="165.6" r="2.9" fill="#fff" stroke="#000" stroke-width="1.3"/>
<path d="M329.2,55.3 L329.5,55.3 C329.58,60.58 329.85,75.72 330,87 C330.15,98.28 330.22,111.78 330.4,123 C330.58,134.22 330.5,147.08 331.1,154.3 C331.7,161.52 333.12,162.7 334,166.3 C334.88,169.9 335.2,172.7 336.4,175.9 C337.6,179.1 339.8,182.5 341.2,185.5 C342.6,188.5 344.6,191.5 344.8,193.9 C345,196.3 343.6,198.1 342.4,199.9 C341.2,201.7 338.4,203.9 337.6,204.7 L329.2,204.7 Z" fill="#006600"/>
<g fill="#006600" fill-opacity="0.45"><circle cx="322.7" cy="55.3" r="3"/><circle cx="322" cy="96.6" r="3"/><circle cx="322.7" cy="98.6" r="3"/><circle cx="321.3" cy="105" r="3"/><circle cx="322" cy="115.4" r="3"/><circle cx="320.3" cy="123.5" r="3"/><circle cx="321.5" cy="129" r="3"/><circle cx="323.2" cy="132.7" r="3"/><circle cx="320.1" cy="139.4" r="3"/><circle cx="323.2" cy="142.3" r="3"/><circle cx="321.3" cy="147.1" r="3"/><circle cx="322" cy="151.9" r="3"/><circle cx="320.8" cy="156.7" r="3"/><circle cx="323.2" cy="157.9" r="3"/><circle cx="322.29" cy="172.88" r="3"/><circle cx="322.69" cy="178.35" r="3"/><circle cx="319.13" cy="188.97" r="3"/><circle cx="324.23" cy="163.55" r="3"/><circle cx="320.25" cy="173.76" r="3"/><circle cx="321.8" cy="204.32" r="3"/><circle cx="321.84" cy="197.71" r="3"/><circle cx="319.69" cy="189.52" r="3"/><circle cx="324.43" cy="189.35" r="3"/><circle cx="323.59" cy="184.71" r="3"/><circle cx="319.12" cy="190.86" r="3"/><circle cx="322.6" cy="194.47" r="3"/><circle cx="318.9" cy="175.5" r="3"/><circle cx="321.82" cy="198.92" r="3"/><circle cx="324.5" cy="192.83" r="3"/><circle cx="324.78" cy="192.64" r="3"/><circle cx="323.99" cy="179.39" r="3"/><circle cx="324.87" cy="181.45" r="3"/><circle cx="319.34" cy="199.47" r="3"/><circle cx="320.13" cy="168.64" r="3"/><circle cx="321.58" cy="203.07" r="3"/><circle cx="320.69" cy="189.01" r="3"/><circle cx="321.25" cy="184.05" r="3"/><circle cx="322.56" cy="177.56" r="3"/><circle cx="324.67" cy="187.25" r="3"/><circle cx="324.83" cy="191.3" r="3"/><circle cx="325.24" cy="198.54" r="3"/><circle cx="319.78" cy="190.86" r="3"/><circle cx="325.07" cy="198.72" r="3"/><circle cx="322.46" cy="200.54" r="3"/><circle cx="320.09" cy="192.62" r="3"/><circle cx="322.49" cy="197.51" r="3"/><circle cx="319.12" cy="174.83" r="3"/><circle cx="325.23" cy="198.44" r="3"/><circle cx="323.98" cy="166.67" r="3"/><circle cx="319.7" cy="180.03" r="3"/><circle cx="323.77" cy="175.2" r="3"/><circle cx="318.99" cy="199.22" r="3"/><circle cx="319" cy="188.5" r="3"/><circle cx="320.88" cy="192.82" r="3"/><circle cx="325.17" cy="199.56" r="3"/><circle cx="325.29" cy="183.97" r="3"/><circle cx="319.21" cy="175.85" r="3"/><circle cx="318.91" cy="187.89" r="3"/><circle cx="321.39" cy="171.19" r="3"/><circle cx="319.73" cy="188.33" r="3"/><circle cx="324.43" cy="164.76" r="3"/><circle cx="325.03" cy="176.02" r="3"/><circle cx="321.19" cy="200.21" r="3"/><circle cx="322.13" cy="182.11" r="3"/><circle cx="322.63" cy="189.72" r="3"/><circle cx="322.79" cy="186.21" r="3"/><circle cx="322.05" cy="202.04" r="3"/><circle cx="323.45" cy="180.89" r="3"/><circle cx="320.69" cy="172.86" r="3"/><circle cx="322.14" cy="203.58" r="3"/><circle cx="318.78" cy="185.76" r="3"/><circle cx="322.53" cy="180.23" r="3"/><circle cx="322.76" cy="163.83" r="3"/><circle cx="319.1" cy="189.24" r="3"/><circle cx="321.78" cy="189.03" r="3"/><circle cx="321.03" cy="191.19" r="3"/><circle cx="323.57" cy="192.34" r="3"/><circle cx="319.1" cy="163.92" r="3"/><circle cx="325.06" cy="191.05" r="3"/><circle cx="321.71" cy="173.42" r="3"/><circle cx="320.81" cy="187.6" r="3"/><circle cx="320.76" cy="178.1" r="3"/><circle cx="322.63" cy="178.32" r="3"/><circle cx="321.19" cy="175.47" r="3"/><circle cx="318.88" cy="195.05" r="3"/><circle cx="323.55" cy="186.62" r="3"/><circle cx="320.17" cy="175.87" r="3"/><circle cx="320.28" cy="196.36" r="3"/><circle cx="321.57" cy="170.78" r="3"/><circle cx="319.37" cy="191.97" r="3"/><circle cx="320.9" cy="176.36" r="3"/><circle cx="321.59" cy="197.59" r="3"/><circle cx="319.82" cy="198.5" r="3"/><circle cx="322.99" cy="176.97" r="3"/><circle cx="321.68" cy="199.72" r="3"/><circle cx="319.5" cy="172.34" r="3"/><circle cx="319.96" cy="184.98" r="3"/><circle cx="324.23" cy="196.48" r="3"/><circle cx="320.54" cy="170.62" r="3"/><circle cx="322.94" cy="196.5" r="3"/><circle cx="320.98" cy="196.46" r="3"/><circle cx="320.63" cy="168.38" r="3"/><circle cx="320.49" cy="195.95" r="3"/><circle cx="321.45" cy="177.37" r="3"/><circle cx="321.4" cy="180.42" r="3"/><circle cx="319.73" cy="201.21" r="3"/><circle cx="324.93" cy="163.19" r="3"/><circle cx="325.21" cy="199.52" r="3"/><circle cx="324.97" cy="181.03" r="3"/><circle cx="320.17" cy="201.49" r="3"/><circle cx="324.22" cy="193.94" r="3"/><circle cx="322.13" cy="190.51" r="3"/><circle cx="320.95" cy="175" r="3"/><circle cx="319.15" cy="172.44" r="3"/><circle cx="320.59" cy="187.43" r="3"/><circle cx="319" cy="196.62" r="3"/><circle cx="323.28" cy="200.5" r="3"/><circle cx="324.62" cy="201.34" r="3"/><circle cx="322.51" cy="200.34" r="3"/><circle cx="323.62" cy="163.55" r="3"/><circle cx="320.68" cy="170.13" r="3"/><circle cx="322.16" cy="190.51" r="3"/><circle cx="324.9" cy="180.17" r="3"/><circle cx="320.95" cy="188.4" r="3"/><circle cx="324.39" cy="173.48" r="3"/><circle cx="323.86" cy="182.8" r="3"/><circle cx="320" cy="177.6" r="3"/><circle cx="324.09" cy="185.19" r="3"/><circle cx="323.93" cy="170.11" r="3"/><circle cx="324.02" cy="201.25" r="3"/><circle cx="318.75" cy="197.18" r="3"/><circle cx="324.39" cy="189.09" r="3"/><circle cx="320.49" cy="165.07" r="3"/><circle cx="322.18" cy="174.15" r="3"/></g>
<line x1="313.9" y1="174.7" x2="313.9" y2="184.7" stroke="#000" stroke-width="1.7" />
<circle cx="313.9" cy="179.7" r="2.9" fill="#fff" stroke="#000" stroke-width="1.3"/>
<polygon points="334.5,106.51 335.09,108.28 336.97,108.3 335.46,109.41 336.02,111.2 334.5,110.11 332.98,111.2 333.54,109.41 332.03,108.3 333.91,108.28" fill="#111" stroke="#111" stroke-width="0.15" stroke-linejoin="round"/>
<path d="M368.4,41.4 L369.3,41.4 C369.35,47 369.4,63.38 369.6,75 C369.8,86.62 369.95,99.88 370.5,111.1 C371.05,122.32 372.1,133.9 372.9,142.3 C373.7,150.7 374.77,155.9 375.3,161.5 C375.83,167.1 376.17,171.1 376.1,175.9 C376.03,180.7 375.23,186.82 374.9,190.3 C374.57,193.78 374.23,195.72 374.1,196.8 L368.4,196.8 Z" fill="#f5a536"/>
<g fill="#f5a536" fill-opacity="0.45"><circle cx="360" cy="41.4" r="3"/><circle cx="362.4" cy="107.9" r="3"/><circle cx="359.7" cy="109.9" r="3"/><circle cx="362.9" cy="129.1" r="3"/><circle cx="362.4" cy="139.9" r="3"/><circle cx="362.9" cy="143.5" r="3"/><circle cx="360.9" cy="151.9" r="3"/><circle cx="360.5" cy="160.3" r="3"/><circle cx="362.9" cy="165.1" r="3"/><circle cx="360.9" cy="171.1" r="3"/><circle cx="360" cy="173.5" r="3"/><circle cx="361.7" cy="180.7" r="3"/><circle cx="362.9" cy="184.3" r="3"/><circle cx="360" cy="187.9" r="3"/><circle cx="360.9" cy="196.3" r="3"/></g>
<line x1="353.7" y1="153.1" x2="353.7" y2="178.3" stroke="#000" stroke-width="1.7" />
<circle cx="353.7" cy="168.2" r="2.9" fill="#fff" stroke="#000" stroke-width="1.3"/>
<path d="M427.5,49.1 L428.2,49.1 C428.25,57.42 428.37,87.47 428.5,99 C428.63,110.53 428.65,112.28 429,118.3 C429.35,124.32 429.93,129.5 430.6,135.1 C431.27,140.7 432.27,146.7 433,151.9 C433.73,157.1 434.8,161.5 435,166.3 C435.2,171.1 434.53,175.9 434.2,180.7 C433.87,185.5 433.2,191.22 433,195.1 C432.8,198.98 433,202.52 433,204 L427.5,204 Z" fill="#006600"/>
<g fill="#006600" fill-opacity="0.45"><circle cx="418.6" cy="49.1" r="3"/><circle cx="422.2" cy="63.7" r="3"/><circle cx="419.8" cy="69" r="3"/><circle cx="420.3" cy="83.9" r="3"/><circle cx="418.6" cy="105" r="3"/><circle cx="419.8" cy="109.9" r="3"/><circle cx="419.3" cy="118.3" r="3"/><circle cx="419.75" cy="138.54" r="3"/><circle cx="419.79" cy="131.48" r="3"/><circle cx="420.76" cy="184.57" r="3"/><circle cx="417.66" cy="142.07" r="3"/><circle cx="419.13" cy="187.64" r="3"/><circle cx="423.05" cy="172.55" r="3"/><circle cx="421.26" cy="194.56" r="3"/><circle cx="418.18" cy="176.44" r="3"/><circle cx="423.63" cy="159.2" r="3"/><circle cx="419.06" cy="193.3" r="3"/><circle cx="423.25" cy="197.07" r="3"/><circle cx="419.88" cy="191.78" r="3"/><circle cx="418.06" cy="170.11" r="3"/><circle cx="421.41" cy="121.76" r="3"/><circle cx="420.29" cy="142.4" r="3"/><circle cx="422.28" cy="142.04" r="3"/><circle cx="423.41" cy="145.9" r="3"/><circle cx="418.55" cy="126.79" r="3"/><circle cx="418.61" cy="184.57" r="3"/><circle cx="420.2" cy="146.8" r="3"/><circle cx="419.01" cy="171.98" r="3"/><circle cx="416.97" cy="201.68" r="3"/><circle cx="422.54" cy="121.9" r="3"/><circle cx="417.6" cy="149.56" r="3"/><circle cx="418.4" cy="203.41" r="3"/><circle cx="418.11" cy="123.16" r="3"/><circle cx="417.19" cy="176.88" r="3"/><circle cx="424.08" cy="160.69" r="3"/><circle cx="424.01" cy="185.32" r="3"/><circle cx="419.86" cy="159.57" r="3"/><circle cx="417.13" cy="190.3" r="3"/><circle cx="418.4" cy="140.13" r="3"/><circle cx="423.58" cy="130.33" r="3"/><circle cx="419.8" cy="167.18" r="3"/><circle cx="422.59" cy="196.38" r="3"/><circle cx="417.57" cy="182.79" r="3"/><circle cx="422.77" cy="187.56" r="3"/><circle cx="421.84" cy="163.94" r="3"/><circle cx="423.89" cy="201.2" r="3"/><circle cx="417.22" cy="201.67" r="3"/><circle cx="423.87" cy="196.21" r="3"/><circle cx="418.1" cy="176.05" r="3"/><circle cx="422.27" cy="173.26" r="3"/><circle cx="416.92" cy="198.69" r="3"/><circle cx="423.21" cy="198.25" r="3"/><circle cx="418.35" cy="165.9" r="3"/><circle cx="423.32" cy="176.42" r="3"/><circle cx="420.69" cy="185.3" r="3"/><circle cx="421.18" cy="120.3" r="3"/><circle cx="421.28" cy="160.53" r="3"/><circle cx="416.98" cy="184.78" r="3"/><circle cx="420.4" cy="145.07" r="3"/><circle cx="417.72" cy="202.07" r="3"/><circle cx="420.59" cy="172.02" r="3"/><circle cx="423.25" cy="185.56" r="3"/><circle cx="422.92" cy="135.04" r="3"/><circle cx="420.46" cy="133.34" r="3"/><circle cx="423.41" cy="147.46" r="3"/><circle cx="419.15" cy="179.81" r="3"/><circle cx="422.05" cy="165.41" r="3"/><circle cx="418.67" cy="160.13" r="3"/><circle cx="422.42" cy="191.74" r="3"/><circle cx="421.77" cy="203.77" r="3"/><circle cx="423.47" cy="171.03" r="3"/><circle cx="420.08" cy="186.46" r="3"/><circle cx="417.86" cy="149.51" r="3"/><circle cx="422.72" cy="125.18" r="3"/><circle cx="419.42" cy="150.36" r="3"/><circle cx="419.8" cy="172.01" r="3"/><circle cx="421.61" cy="199.45" r="3"/><circle cx="417.07" cy="146.42" r="3"/><circle cx="423.65" cy="161.09" r="3"/><circle cx="421.35" cy="176.76" r="3"/><circle cx="423.58" cy="190.32" r="3"/><circle cx="423.36" cy="153.33" r="3"/><circle cx="418.56" cy="179.21" r="3"/><circle cx="424.07" cy="146.42" r="3"/><circle cx="419.78" cy="196.21" r="3"/><circle cx="419.86" cy="189.12" r="3"/><circle cx="420.79" cy="119.15" r="3"/><circle cx="419.52" cy="178.32" r="3"/><circle cx="418.02" cy="200.74" r="3"/><circle cx="417.56" cy="170.53" r="3"/><circle cx="423.58" cy="140.44" r="3"/><circle cx="419.05" cy="130.94" r="3"/><circle cx="422.59" cy="200.47" r="3"/><circle cx="423.81" cy="177.22" r="3"/><circle cx="417.13" cy="131.7" r="3"/><circle cx="417.34" cy="145.54" r="3"/><circle cx="423.31" cy="204.35" r="3"/><circle cx="421.62" cy="179.07" r="3"/><circle cx="421.9" cy="180.59" r="3"/><circle cx="420.52" cy="180.96" r="3"/><circle cx="418.11" cy="160.12" r="3"/><circle cx="419.72" cy="194.11" r="3"/><circle cx="419.26" cy="177.35" r="3"/><circle cx="417.1" cy="151.65" r="3"/><circle cx="423.81" cy="194.27" r="3"/><circle cx="423.01" cy="131.27" r="3"/><circle cx="420.89" cy="189.64" r="3"/><circle cx="418.23" cy="159.47" r="3"/><circle cx="423" cy="199.53" r="3"/><circle cx="417.67" cy="190.54" r="3"/><circle cx="419.1" cy="171.87" r="3"/><circle cx="421.22" cy="174.28" r="3"/><circle cx="423.35" cy="175.59" r="3"/><circle cx="422.91" cy="172.38" r="3"/><circle cx="421.93" cy="194.84" r="3"/><circle cx="424.01" cy="170.61" r="3"/><circle cx="422.04" cy="148.72" r="3"/><circle cx="421.2" cy="161.33" r="3"/><circle cx="417.41" cy="139.74" r="3"/><circle cx="423.95" cy="178.61" r="3"/><circle cx="416.91" cy="189.92" r="3"/><circle cx="421.38" cy="191.42" r="3"/><circle cx="419.7" cy="188.98" r="3"/><circle cx="419.87" cy="170.62" r="3"/><circle cx="421.87" cy="193.06" r="3"/><circle cx="420.05" cy="186.63" r="3"/><circle cx="423.29" cy="133.21" r="3"/><circle cx="422.34" cy="199.07" r="3"/><circle cx="422.96" cy="153.42" r="3"/><circle cx="417.12" cy="140.27" r="3"/><circle cx="423.48" cy="140.93" r="3"/><circle cx="418.42" cy="132.44" r="3"/><circle cx="423.31" cy="199.18" r="3"/><circle cx="419.35" cy="161.43" r="3"/><circle cx="422.97" cy="132.48" r="3"/><circle cx="421.66" cy="143.8" r="3"/><circle cx="423" cy="196.91" r="3"/><circle cx="417.15" cy="133.75" r="3"/><circle cx="423.98" cy="146.22" r="3"/><circle cx="424.03" cy="170.79" r="3"/><circle cx="423.78" cy="132.95" r="3"/><circle cx="423.95" cy="200.77" r="3"/><circle cx="422.97" cy="179.28" r="3"/><circle cx="417.89" cy="127.07" r="3"/><circle cx="420.79" cy="159.65" r="3"/><circle cx="417.17" cy="190.94" r="3"/><circle cx="418.62" cy="131.3" r="3"/><circle cx="421.4" cy="167.92" r="3"/><circle cx="422" cy="147.93" r="3"/><circle cx="419.41" cy="200.16" r="3"/><circle cx="417.09" cy="203.4" r="3"/><circle cx="419.1" cy="161.27" r="3"/><circle cx="417.91" cy="180.57" r="3"/><circle cx="419.46" cy="150.69" r="3"/><circle cx="417.11" cy="156.84" r="3"/><circle cx="419.91" cy="186.18" r="3"/><circle cx="420.92" cy="128" r="3"/><circle cx="423.91" cy="195.84" r="3"/><circle cx="421.33" cy="163.85" r="3"/><circle cx="422.12" cy="170.21" r="3"/><circle cx="417.21" cy="187.63" r="3"/><circle cx="420.03" cy="133.92" r="3"/><circle cx="421.77" cy="132.8" r="3"/><circle cx="423.64" cy="165.36" r="3"/><circle cx="420.77" cy="140.45" r="3"/><circle cx="423.11" cy="165.34" r="3"/><circle cx="422.8" cy="169.93" r="3"/><circle cx="423.68" cy="194.05" r="3"/><circle cx="420.82" cy="186.29" r="3"/><circle cx="420.32" cy="140.89" r="3"/><circle cx="420.3" cy="193.34" r="3"/><circle cx="416.92" cy="143.04" r="3"/><circle cx="422.98" cy="164.05" r="3"/><circle cx="422.99" cy="197.42" r="3"/><circle cx="419" cy="118.92" r="3"/><circle cx="417.57" cy="163.04" r="3"/><circle cx="421.44" cy="173.72" r="3"/><circle cx="421.87" cy="162.42" r="3"/><circle cx="422.39" cy="129.79" r="3"/><circle cx="418.9" cy="146.22" r="3"/><circle cx="421.52" cy="169.09" r="3"/><circle cx="419.09" cy="165.44" r="3"/><circle cx="418.68" cy="163.65" r="3"/><circle cx="420.37" cy="172.36" r="3"/><circle cx="421.08" cy="174.68" r="3"/><circle cx="423.8" cy="167.6" r="3"/><circle cx="423.78" cy="177.49" r="3"/><circle cx="419.09" cy="157.3" r="3"/><circle cx="419.18" cy="145.52" r="3"/><circle cx="421.68" cy="143.41" r="3"/><circle cx="422.91" cy="187.38" r="3"/><circle cx="424.06" cy="133.35" r="3"/><circle cx="423.14" cy="120.87" r="3"/><circle cx="418.67" cy="166.36" r="3"/><circle cx="418.64" cy="202.14" r="3"/><circle cx="418.99" cy="156.41" r="3"/><circle cx="416.93" cy="126.36" r="3"/><circle cx="422.21" cy="204.43" r="3"/><circle cx="419.37" cy="166.52" r="3"/><circle cx="420.43" cy="184.06" r="3"/><circle cx="422.16" cy="199.51" r="3"/><circle cx="419.69" cy="152.14" r="3"/><circle cx="418.96" cy="136.33" r="3"/><circle cx="423.26" cy="182.18" r="3"/><circle cx="423.48" cy="195.36" r="3"/><circle cx="420.03" cy="190.28" r="3"/><circle cx="421.05" cy="180.42" r="3"/><circle cx="418.95" cy="172.09" r="3"/><circle cx="423.22" cy="147.16" r="3"/><circle cx="418.61" cy="172.77" r="3"/><circle cx="419.94" cy="194.3" r="3"/><circle cx="422.24" cy="184.43" r="3"/><circle cx="419.49" cy="142.4" r="3"/><circle cx="423.93" cy="167.08" r="3"/><circle cx="423.88" cy="185.27" r="3"/><circle cx="422.34" cy="148.26" r="3"/><circle cx="418.73" cy="182.59" r="3"/><circle cx="421.56" cy="172.08" r="3"/><circle cx="423.78" cy="133.31" r="3"/><circle cx="417.22" cy="193.68" r="3"/><circle cx="418.01" cy="189.22" r="3"/><circle cx="417.31" cy="167.97" r="3"/><circle cx="418.52" cy="180.77" r="3"/><circle cx="421.32" cy="187.44" r="3"/><circle cx="418.29" cy="133.14" r="3"/><circle cx="417" cy="187.23" r="3"/><circle cx="421.03" cy="159.98" r="3"/><circle cx="423.49" cy="168.22" r="3"/><circle cx="417.75" cy="147.44" r="3"/><circle cx="423.11" cy="139.86" r="3"/><circle cx="418.39" cy="194.32" r="3"/><circle cx="419.69" cy="139.58" r="3"/><circle cx="422.99" cy="173.63" r="3"/><circle cx="421.97" cy="181.12" r="3"/><circle cx="417.94" cy="197.86" r="3"/><circle cx="423.06" cy="193.2" r="3"/><circle cx="418.68" cy="149.88" r="3"/></g>
<line x1="412.1" y1="163.9" x2="412.1" y2="174.4" stroke="#000" stroke-width="1.7" />
<circle cx="412.1" cy="169.4" r="2.9" fill="#fff" stroke="#000" stroke-width="1.3"/>
<polygon points="432.3,70.51 432.89,72.28 434.77,72.3 433.26,73.41 433.82,75.2 432.3,74.11 430.78,75.2 431.34,73.41 429.83,72.3 431.71,72.28" fill="#111" stroke="#111" stroke-width="0.15" stroke-linejoin="round"/>
<polygon points="438.3,70.51 438.89,72.28 440.77,72.3 439.26,73.41 439.82,75.2 438.3,74.11 436.78,75.2 437.34,73.41 435.83,72.3 437.71,72.28" fill="#111" stroke="#111" stroke-width="0.15" stroke-linejoin="round"/>
<polygon points="444.3,70.51 444.89,72.28 446.77,72.3 445.26,73.41 445.82,75.2 444.3,74.11 442.78,75.2 443.34,73.41 441.83,72.3 443.71,72.28" fill="#111" stroke="#111" stroke-width="0.15" stroke-linejoin="round"/>
<path d="M467,54.7 L468.1,54.7 C468.3,58.92 468.85,72.45 469.3,80 C469.75,87.55 470.47,94.67 470.8,100 C471.13,105.33 471.3,106.17 471.3,112 C471.3,117.83 471.05,127 470.8,135 C470.55,143 470.1,151.12 469.8,160 C469.5,168.88 469.13,183.58 469,188.3 L467,188.3 Z" fill="#f5a536"/>
<g fill="#f5a536" fill-opacity="0.45"><circle cx="459.9" cy="54.1" r="3"/><circle cx="459.9" cy="66.6" r="3"/><circle cx="459.9" cy="77.4" r="3"/><circle cx="458.3" cy="96.6" r="3"/><circle cx="459" cy="103.8" r="3"/><circle cx="460.7" cy="108.2" r="3"/><circle cx="459.5" cy="113.5" r="3"/><circle cx="461.1" cy="119.5" r="3"/><circle cx="458.3" cy="129.1" r="3"/><circle cx="460.7" cy="129.1" r="3"/><circle cx="459" cy="142.3" r="3"/><circle cx="461.4" cy="147.1" r="3"/><circle cx="458.3" cy="154.3" r="3"/><circle cx="460.7" cy="169.9" r="3"/><circle cx="459.9" cy="184.3" r="3"/><circle cx="458.3" cy="186.7" r="3"/><circle cx="461.9" cy="188.4" r="3"/></g>
<line x1="452.2" y1="117.1" x2="452.2" y2="156.7" stroke="#000" stroke-width="1.7" />
<circle cx="452.2" cy="139.9" r="2.9" fill="#fff" stroke="#000" stroke-width="1.3"/>
<path d="M526.3,81.5 L526.7,81.5 C526.7,88.43 526.62,113.97 526.7,123.1 C526.78,132.23 526.92,132.9 527.2,136.3 C527.48,139.7 528.28,140.9 528.4,143.5 C528.52,146.1 527.7,148.9 527.9,151.9 C528.1,154.9 528.52,158.3 529.6,161.5 C530.68,164.7 532.8,167.9 534.4,171.1 C536,174.3 537.67,177.1 539.2,180.7 C540.73,184.3 543.2,189.5 543.6,192.7 C544,195.9 542.37,198.62 541.6,199.9 C540.83,201.18 539.43,200.32 539,200.4 L526.3,200.4 Z" fill="#006600"/>
<g fill="#006600" fill-opacity="0.45"><circle cx="520" cy="81.5" r="3"/><circle cx="517.6" cy="95.9" r="3"/><circle cx="518.8" cy="123.5" r="3"/><circle cx="518.1" cy="143.5" r="3"/><circle cx="520" cy="144.7" r="3"/><circle cx="521.2" cy="151.4" r="3"/><circle cx="518.8" cy="149.5" r="3"/><circle cx="520.7" cy="155" r="3"/><circle cx="517.6" cy="162.7" r="3"/><circle cx="521.1" cy="186.05" r="3"/><circle cx="522.42" cy="192.42" r="3"/><circle cx="522.29" cy="190.38" r="3"/><circle cx="519.27" cy="164.07" r="3"/><circle cx="520.48" cy="197.9" r="3"/><circle cx="516.95" cy="196.33" r="3"/><circle cx="517.83" cy="180.36" r="3"/><circle cx="519.99" cy="183.12" r="3"/><circle cx="517.63" cy="163.49" r="3"/><circle cx="522.25" cy="173.34" r="3"/><circle cx="517.25" cy="191.33" r="3"/><circle cx="517.12" cy="192.49" r="3"/><circle cx="517.04" cy="185.85" r="3"/><circle cx="521.95" cy="163.07" r="3"/><circle cx="517.62" cy="170.75" r="3"/><circle cx="521.96" cy="199.35" r="3"/><circle cx="522.55" cy="173.7" r="3"/><circle cx="520.67" cy="182.95" r="3"/><circle cx="522.41" cy="170.58" r="3"/><circle cx="522.58" cy="188.55" r="3"/><circle cx="518.17" cy="196.07" r="3"/><circle cx="517.3" cy="176.36" r="3"/><circle cx="516.63" cy="168.39" r="3"/><circle cx="520.18" cy="174.15" r="3"/><circle cx="520.67" cy="163.13" r="3"/><circle cx="518.25" cy="175.5" r="3"/><circle cx="519.37" cy="193.29" r="3"/><circle cx="519.38" cy="174.68" r="3"/><circle cx="516.58" cy="189.07" r="3"/><circle cx="516.35" cy="199.08" r="3"/><circle cx="521.78" cy="190.74" r="3"/><circle cx="521.4" cy="163.67" r="3"/><circle cx="520.02" cy="176.55" r="3"/><circle cx="516.51" cy="163.34" r="3"/><circle cx="522.5" cy="169.69" r="3"/><circle cx="521.19" cy="170.27" r="3"/><circle cx="522.42" cy="197.4" r="3"/><circle cx="518.54" cy="175.74" r="3"/><circle cx="521.32" cy="182.41" r="3"/><circle cx="521.14" cy="167" r="3"/><circle cx="521.87" cy="192.5" r="3"/><circle cx="522.44" cy="164.36" r="3"/><circle cx="518.45" cy="166.37" r="3"/><circle cx="522.26" cy="185.6" r="3"/><circle cx="522.3" cy="175.58" r="3"/><circle cx="518.26" cy="183.17" r="3"/><circle cx="517.37" cy="174.72" r="3"/><circle cx="517.18" cy="165.89" r="3"/><circle cx="522.78" cy="188.5" r="3"/><circle cx="516.52" cy="168.98" r="3"/><circle cx="519.72" cy="199.51" r="3"/><circle cx="517.77" cy="178.02" r="3"/><circle cx="521.65" cy="184.98" r="3"/><circle cx="518.98" cy="179.86" r="3"/><circle cx="522.25" cy="165.06" r="3"/><circle cx="519.46" cy="164.21" r="3"/><circle cx="517.06" cy="194.02" r="3"/><circle cx="522.47" cy="190.07" r="3"/><circle cx="521.4" cy="186.32" r="3"/><circle cx="519.07" cy="166.95" r="3"/><circle cx="521.78" cy="168.52" r="3"/><circle cx="519.19" cy="173.91" r="3"/><circle cx="521.82" cy="199.97" r="3"/><circle cx="519.19" cy="199.11" r="3"/><circle cx="521.01" cy="181.06" r="3"/><circle cx="518.12" cy="180.72" r="3"/><circle cx="517.17" cy="177.94" r="3"/><circle cx="522.72" cy="176.95" r="3"/><circle cx="520.34" cy="198.51" r="3"/><circle cx="518.43" cy="181.47" r="3"/><circle cx="518" cy="166.3" r="3"/><circle cx="521.92" cy="191.93" r="3"/><circle cx="521.39" cy="176.37" r="3"/><circle cx="520.78" cy="191.67" r="3"/><circle cx="521.21" cy="187.57" r="3"/><circle cx="520.85" cy="176.45" r="3"/><circle cx="519.41" cy="173.39" r="3"/><circle cx="520.76" cy="191.48" r="3"/><circle cx="522.44" cy="173.87" r="3"/><circle cx="520.03" cy="187.04" r="3"/><circle cx="519.81" cy="163.43" r="3"/><circle cx="520.63" cy="172.28" r="3"/><circle cx="521.59" cy="180.13" r="3"/><circle cx="521.46" cy="186.96" r="3"/><circle cx="520.45" cy="175.87" r="3"/><circle cx="521.67" cy="190.3" r="3"/><circle cx="521.76" cy="175.95" r="3"/><circle cx="520.74" cy="195.19" r="3"/><circle cx="522.51" cy="199.12" r="3"/><circle cx="519.69" cy="182.17" r="3"/><circle cx="521.72" cy="169.15" r="3"/><circle cx="519.35" cy="197.68" r="3"/><circle cx="520.95" cy="188.58" r="3"/><circle cx="517.33" cy="190.02" r="3"/><circle cx="520.03" cy="191.87" r="3"/><circle cx="518.98" cy="187.63" r="3"/><circle cx="521.31" cy="186.08" r="3"/><circle cx="520.95" cy="186.56" r="3"/><circle cx="517.26" cy="164.02" r="3"/><circle cx="520.49" cy="179.32" r="3"/><circle cx="520.73" cy="171.1" r="3"/><circle cx="516.48" cy="186.34" r="3"/><circle cx="517.69" cy="180.45" r="3"/><circle cx="517.08" cy="165" r="3"/><circle cx="517.4" cy="174.74" r="3"/><circle cx="516.44" cy="170.15" r="3"/><circle cx="518.71" cy="180.22" r="3"/><circle cx="520.1" cy="185.64" r="3"/><circle cx="522.16" cy="171.8" r="3"/><circle cx="518.88" cy="163.02" r="3"/><circle cx="518.91" cy="173.31" r="3"/><circle cx="521.69" cy="167.26" r="3"/><circle cx="516.44" cy="176.83" r="3"/><circle cx="516.83" cy="185.7" r="3"/><circle cx="518.44" cy="183.17" r="3"/><circle cx="522.52" cy="184.49" r="3"/><circle cx="518.97" cy="193.29" r="3"/><circle cx="520.44" cy="193.08" r="3"/><circle cx="517.14" cy="176.67" r="3"/><circle cx="519.92" cy="185.05" r="3"/></g>
<line x1="511.1" y1="177.1" x2="511.1" y2="187.1" stroke="#000" stroke-width="1.7" />
<circle cx="511.1" cy="182.1" r="2.9" fill="#fff" stroke="#000" stroke-width="1.3"/>
<polygon points="528.4,98.41 528.99,100.18 530.87,100.2 529.36,101.31 529.92,103.1 528.4,102.01 526.88,103.1 527.44,101.31 525.93,100.2 527.81,100.18" fill="#111" stroke="#111" stroke-width="0.15" stroke-linejoin="round"/>
<polygon points="534.4,98.41 534.99,100.18 536.87,100.2 535.36,101.31 535.92,103.1 534.4,102.01 532.88,103.1 533.44,101.31 531.93,100.2 533.81,100.18" fill="#111" stroke="#111" stroke-width="0.15" stroke-linejoin="round"/>
<polygon points="540.4,98.41 540.99,100.18 542.87,100.2 541.36,101.31 541.92,103.1 540.4,102.01 538.88,103.1 539.44,101.31 537.93,100.2 539.81,100.18" fill="#111" stroke="#111" stroke-width="0.15" stroke-linejoin="round"/>
<path d="M565.9,69.5 L566.9,69.5 C566.97,76.43 566.9,100.57 567.3,111.1 C567.7,121.63 568.45,126.3 569.3,132.7 C570.15,139.1 571.88,144.7 572.4,149.5 C572.92,154.3 572.92,157.1 572.4,161.5 C571.88,165.9 570.02,170.82 569.3,175.9 C568.58,180.98 568.3,189.32 568.1,192 L565.9,192 Z" fill="#f5a536"/>
<g fill="#f5a536" fill-opacity="0.45"><circle cx="558" cy="69.5" r="3"/><circle cx="560.4" cy="84.6" r="3"/><circle cx="558.9" cy="107.9" r="3"/><circle cx="559.7" cy="114.7" r="3"/><circle cx="559.7" cy="135.1" r="3"/><circle cx="557.3" cy="138" r="3"/><circle cx="558.9" cy="142.3" r="3"/><circle cx="560.4" cy="147.1" r="3"/><circle cx="558" cy="154.3" r="3"/><circle cx="559.7" cy="157.9" r="3"/><circle cx="558" cy="161.5" r="3"/><circle cx="558.9" cy="166.3" r="3"/><circle cx="560.4" cy="179.5" r="3"/><circle cx="558.9" cy="187.4" r="3"/><circle cx="558" cy="191.5" r="3"/></g>
<line x1="550.8" y1="144" x2="550.8" y2="172.3" stroke="#000" stroke-width="1.7" />
<circle cx="550.8" cy="159.8" r="2.9" fill="#fff" stroke="#000" stroke-width="1.3"/>
<path d="M624.7,48.1 L625.4,48.1 C625.48,54.58 625.78,76.1 625.9,87 C626.02,97.9 625.78,105.48 626.1,113.5 C626.42,121.52 627.12,128.3 627.8,135.1 C628.48,141.9 629.47,148.3 630.2,154.3 C630.93,160.3 632,165.9 632.2,171.1 C632.4,176.3 631.93,181.5 631.4,185.5 C630.87,189.5 629.6,192.1 629,195.1 C628.4,198.1 628,202.1 627.8,203.5 L624.7,203.5 Z" fill="#006600"/>
<g fill="#006600" fill-opacity="0.45"><circle cx="618.7" cy="48.1" r="3"/><circle cx="616.3" cy="67.8" r="3"/><circle cx="617" cy="70.7" r="3"/><circle cx="615.8" cy="95.4" r="3"/><circle cx="616.3" cy="101.4" r="3"/><circle cx="619.4" cy="113.9" r="3"/><circle cx="616.3" cy="129.8" r="3"/><circle cx="618.7" cy="132" r="3"/><circle cx="617" cy="137.5" r="3"/><circle cx="615.3" cy="139.4" r="3"/><circle cx="617" cy="148.3" r="3"/><circle cx="619.4" cy="149" r="3"/><circle cx="618.2" cy="154.3" r="3"/><circle cx="615.8" cy="160.3" r="3"/><circle cx="618.2" cy="161.5" r="3"/><circle cx="616.5" cy="168.7" r="3"/><circle cx="619" cy="171.1" r="3"/><circle cx="615.8" cy="177.1" r="3"/><circle cx="618.2" cy="179.5" r="3"/><circle cx="616.5" cy="184.3" r="3"/><circle cx="617.7" cy="190.3" r="3"/><circle cx="615.8" cy="192.7" r="3"/><circle cx="619" cy="195.1" r="3"/><circle cx="617" cy="198.7" r="3"/><circle cx="619.4" cy="203.5" r="3"/><circle cx="617.5" cy="165" r="3"/><circle cx="616" cy="174" r="3"/><circle cx="618.5" cy="187" r="3"/><circle cx="617" cy="157" r="3"/><circle cx="619" cy="143" r="3"/><circle cx="620.43" cy="194.98" r="3"/><circle cx="617.13" cy="179.03" r="3"/><circle cx="617.66" cy="66.36" r="3"/><circle cx="616.06" cy="73.53" r="3"/><circle cx="619.21" cy="150.44" r="3"/><circle cx="615.87" cy="140.88" r="3"/><circle cx="617.64" cy="138.39" r="3"/><circle cx="618.72" cy="113.84" r="3"/></g>
<line x1="609.8" y1="154.3" x2="609.8" y2="174.7" stroke="#000" stroke-width="1.7" />
<circle cx="609.8" cy="165.6" r="2.9" fill="#fff" stroke="#000" stroke-width="1.3"/>
<path d="M663.9,43.1 L665.1,43.1 C665.17,50.42 665.3,73.68 665.5,87 C665.7,100.32 665.88,113.78 666.3,123 C666.72,132.22 667.6,135.88 668,142.3 C668.4,148.72 668.78,155.1 668.7,161.5 C668.62,167.9 667.9,175.22 667.5,180.7 C667.1,186.18 666.5,192.12 666.3,194.4 L663.9,194.4 Z" fill="#f5a536"/>
<g fill="#f5a536" fill-opacity="0.45"><circle cx="655.9" cy="43.1" r="3"/><circle cx="658.3" cy="71.4" r="3"/><circle cx="655.5" cy="118.3" r="3"/><circle cx="657.9" cy="125.5" r="3"/><circle cx="658.6" cy="137" r="3"/><circle cx="655.5" cy="145.4" r="3"/><circle cx="656.7" cy="159.6" r="3"/><circle cx="656.7" cy="167" r="3"/><circle cx="657.1" cy="178.3" r="3"/><circle cx="657.9" cy="187.9" r="3"/><circle cx="656.7" cy="194.4" r="3"/></g>
<line x1="649" y1="120" x2="649" y2="169.4" stroke="#000" stroke-width="1.7" />
<circle cx="649" cy="150" r="2.9" fill="#fff" stroke="#000" stroke-width="1.3"/>
<rect x="41.3" y="261.6" width="137" height="22.6" fill="#d9d9d9"/>
<text x="111.2" y="278" font-size="11.3" text-anchor="middle" font-weight="normal" fill="#1a1a1a"  textLength="36.5" lengthAdjust="spacingAndGlyphs">Overall</text>
<rect x="41.3" y="284.2" width="137" height="181" fill="none" stroke="#9a9a9a" stroke-width="1"/>
<line x1="41.3" y1="283.7" x2="41.3" y2="465.7" stroke="#6e6e6e" stroke-width="1" />
<line x1="40.8" y1="465.2" x2="178.8" y2="465.2" stroke="#6e6e6e" stroke-width="1" />
<line x1="37.5" y1="286.2" x2="41.3" y2="286.2" stroke="#6e6e6e" stroke-width="1" />
<line x1="37.5" y1="345.9" x2="41.3" y2="345.9" stroke="#6e6e6e" stroke-width="1" />
<line x1="37.5" y1="405.6" x2="41.3" y2="405.6" stroke="#6e6e6e" stroke-width="1" />
<line x1="37.5" y1="465.2" x2="41.3" y2="465.2" stroke="#6e6e6e" stroke-width="1" />
<line x1="76.5" y1="465.2" x2="76.5" y2="468.7" stroke="#6e6e6e" stroke-width="1" />
<line x1="136.5" y1="465.2" x2="136.5" y2="468.7" stroke="#6e6e6e" stroke-width="1" />
<text x="31.4" y="289.6" font-size="10.8" text-anchor="end" font-weight="normal" fill="#1a1a1a" >30</text>
<text x="31.4" y="349.3" font-size="10.8" text-anchor="end" font-weight="normal" fill="#1a1a1a" >20</text>
<text x="31.4" y="409" font-size="10.8" text-anchor="end" font-weight="normal" fill="#1a1a1a" >10</text>
<text x="31.4" y="468.6" font-size="10.8" text-anchor="end" font-weight="normal" fill="#1a1a1a" >0</text>
<text transform="translate(9.8,376.5) rotate(-90)" font-size="11.4" text-anchor="middle" fill="#1a1a1a" textLength="121" lengthAdjust="spacingAndGlyphs">Trophic diversity (SEAc)</text>
<rect x="199.8" y="261.1" width="90.8" height="25.6" fill="#d9d9d9"/>
<text x="247.1" y="279.1" font-size="11.3" text-anchor="middle" font-weight="normal" fill="#1a1a1a"  textLength="54.8" lengthAdjust="spacingAndGlyphs">Herbivores</text>
<rect x="199.8" y="286.7" width="90.8" height="179.6" fill="none" stroke="#9a9a9a" stroke-width="1"/>
<line x1="199.8" y1="286.2" x2="199.8" y2="466.8" stroke="#6e6e6e" stroke-width="1" />
<line x1="199.3" y1="466.3" x2="291.1" y2="466.3" stroke="#6e6e6e" stroke-width="1" />
<line x1="196" y1="287.1" x2="199.8" y2="287.1" stroke="#6e6e6e" stroke-width="1" />
<line x1="196" y1="346.9" x2="199.8" y2="346.9" stroke="#6e6e6e" stroke-width="1" />
<line x1="196" y1="406.7" x2="199.8" y2="406.7" stroke="#6e6e6e" stroke-width="1" />
<line x1="196" y1="466.3" x2="199.8" y2="466.3" stroke="#6e6e6e" stroke-width="1" />
<line x1="223.4" y1="466.3" x2="223.4" y2="469.8" stroke="#6e6e6e" stroke-width="1" />
<line x1="263" y1="466.3" x2="263" y2="469.8" stroke="#6e6e6e" stroke-width="1" />
<rect x="298.2" y="261.1" width="90.8" height="25.6" fill="#d9d9d9"/>
<text x="346.4" y="279.1" font-size="11.3" text-anchor="middle" font-weight="normal" fill="#1a1a1a"  textLength="57.5" lengthAdjust="spacingAndGlyphs">Detritivores</text>
<rect x="298.2" y="286.7" width="90.8" height="179.6" fill="none" stroke="#9a9a9a" stroke-width="1"/>
<line x1="298.2" y1="286.2" x2="298.2" y2="466.8" stroke="#6e6e6e" stroke-width="1" />
<line x1="297.7" y1="466.3" x2="389.5" y2="466.3" stroke="#6e6e6e" stroke-width="1" />
<line x1="294.4" y1="287.1" x2="298.2" y2="287.1" stroke="#6e6e6e" stroke-width="1" />
<line x1="294.4" y1="346.9" x2="298.2" y2="346.9" stroke="#6e6e6e" stroke-width="1" />
<line x1="294.4" y1="406.7" x2="298.2" y2="406.7" stroke="#6e6e6e" stroke-width="1" />
<line x1="294.4" y1="466.3" x2="298.2" y2="466.3" stroke="#6e6e6e" stroke-width="1" />
<line x1="321.8" y1="466.3" x2="321.8" y2="469.8" stroke="#6e6e6e" stroke-width="1" />
<line x1="361.4" y1="466.3" x2="361.4" y2="469.8" stroke="#6e6e6e" stroke-width="1" />
<rect x="397" y="261.1" width="90.5" height="25.6" fill="#d9d9d9"/>
<text x="445.25" y="279.1" font-size="11.3" text-anchor="middle" font-weight="normal" fill="#1a1a1a"  textLength="65.7" lengthAdjust="spacingAndGlyphs">Microbivores</text>
<rect x="397" y="286.7" width="90.5" height="179.6" fill="none" stroke="#9a9a9a" stroke-width="1"/>
<line x1="397" y1="286.2" x2="397" y2="466.8" stroke="#6e6e6e" stroke-width="1" />
<line x1="396.5" y1="466.3" x2="488" y2="466.3" stroke="#6e6e6e" stroke-width="1" />
<line x1="393.2" y1="287.1" x2="397" y2="287.1" stroke="#6e6e6e" stroke-width="1" />
<line x1="393.2" y1="346.9" x2="397" y2="346.9" stroke="#6e6e6e" stroke-width="1" />
<line x1="393.2" y1="406.7" x2="397" y2="406.7" stroke="#6e6e6e" stroke-width="1" />
<line x1="393.2" y1="466.3" x2="397" y2="466.3" stroke="#6e6e6e" stroke-width="1" />
<line x1="420.6" y1="466.3" x2="420.6" y2="469.8" stroke="#6e6e6e" stroke-width="1" />
<line x1="460.2" y1="466.3" x2="460.2" y2="469.8" stroke="#6e6e6e" stroke-width="1" />
<rect x="495.8" y="261.1" width="90.4" height="25.6" fill="#d9d9d9"/>
<text x="542.1" y="279.1" font-size="11.3" text-anchor="middle" font-weight="normal" fill="#1a1a1a"  textLength="48.5" lengthAdjust="spacingAndGlyphs">Predators</text>
<rect x="495.8" y="286.7" width="90.4" height="179.6" fill="none" stroke="#9a9a9a" stroke-width="1"/>
<line x1="495.8" y1="286.2" x2="495.8" y2="466.8" stroke="#6e6e6e" stroke-width="1" />
<line x1="495.3" y1="466.3" x2="586.7" y2="466.3" stroke="#6e6e6e" stroke-width="1" />
<line x1="492" y1="287.1" x2="495.8" y2="287.1" stroke="#6e6e6e" stroke-width="1" />
<line x1="492" y1="346.9" x2="495.8" y2="346.9" stroke="#6e6e6e" stroke-width="1" />
<line x1="492" y1="406.7" x2="495.8" y2="406.7" stroke="#6e6e6e" stroke-width="1" />
<line x1="492" y1="466.3" x2="495.8" y2="466.3" stroke="#6e6e6e" stroke-width="1" />
<line x1="519.4" y1="466.3" x2="519.4" y2="469.8" stroke="#6e6e6e" stroke-width="1" />
<line x1="559" y1="466.3" x2="559" y2="469.8" stroke="#6e6e6e" stroke-width="1" />
<rect x="594.4" y="261.1" width="90.1" height="25.6" fill="#d9d9d9"/>
<text x="640.75" y="279.1" font-size="11.3" text-anchor="middle" font-weight="normal" fill="#1a1a1a"  textLength="71.1" lengthAdjust="spacingAndGlyphs">Mixed feeders</text>
<rect x="594.4" y="286.7" width="90.1" height="179.6" fill="none" stroke="#9a9a9a" stroke-width="1"/>
<line x1="594.4" y1="286.2" x2="594.4" y2="466.8" stroke="#6e6e6e" stroke-width="1" />
<line x1="593.9" y1="466.3" x2="685" y2="466.3" stroke="#6e6e6e" stroke-width="1" />
<line x1="590.6" y1="287.1" x2="594.4" y2="287.1" stroke="#6e6e6e" stroke-width="1" />
<line x1="590.6" y1="346.9" x2="594.4" y2="346.9" stroke="#6e6e6e" stroke-width="1" />
<line x1="590.6" y1="406.7" x2="594.4" y2="406.7" stroke="#6e6e6e" stroke-width="1" />
<line x1="590.6" y1="466.3" x2="594.4" y2="466.3" stroke="#6e6e6e" stroke-width="1" />
<line x1="618" y1="466.3" x2="618" y2="469.8" stroke="#6e6e6e" stroke-width="1" />
<line x1="657.6" y1="466.3" x2="657.6" y2="469.8" stroke="#6e6e6e" stroke-width="1" />
<text transform="translate(81.8,479.4) rotate(-45)" font-size="9.9" text-anchor="end" fill="#1a1a1a">Temperate</text>
<text transform="translate(228.7,479.4) rotate(-45)" font-size="9.9" text-anchor="end" fill="#1a1a1a">Temperate</text>
<text transform="translate(327.1,479.4) rotate(-45)" font-size="9.9" text-anchor="end" fill="#1a1a1a">Temperate</text>
<text transform="translate(425.9,479.4) rotate(-45)" font-size="9.9" text-anchor="end" fill="#1a1a1a">Temperate</text>
<text transform="translate(524.7,479.4) rotate(-45)" font-size="9.9" text-anchor="end" fill="#1a1a1a">Temperate</text>
<text transform="translate(623.3,479.4) rotate(-45)" font-size="9.9" text-anchor="end" fill="#1a1a1a">Temperate</text>
<text transform="translate(142.8,482.3) rotate(-45)" font-size="9.9" text-anchor="end" fill="#1a1a1a">Tropical</text>
<text transform="translate(269.3,482.3) rotate(-45)" font-size="9.9" text-anchor="end" fill="#1a1a1a">Tropical</text>
<text transform="translate(367.7,482.3) rotate(-45)" font-size="9.9" text-anchor="end" fill="#1a1a1a">Tropical</text>
<text transform="translate(466.5,482.3) rotate(-45)" font-size="9.9" text-anchor="end" fill="#1a1a1a">Tropical</text>
<text transform="translate(565.3,482.3) rotate(-45)" font-size="9.9" text-anchor="end" fill="#1a1a1a">Tropical</text>
<text transform="translate(663.9,482.3) rotate(-45)" font-size="9.9" text-anchor="end" fill="#1a1a1a">Tropical</text>
<text x="402.4" y="527" font-size="11.3" text-anchor="middle" font-weight="normal" fill="#1a1a1a"  textLength="83" lengthAdjust="spacingAndGlyphs">Climatic regions</text>
<path d="M87.5,299 L87.9,299 C87.97,301.67 88.02,310.67 88.3,315 C88.58,319.33 89.6,321.83 89.6,325 C89.6,328.17 88.53,326.75 88.3,334 C88.07,341.25 87.83,359.93 88.2,368.5 C88.57,377.07 89.72,380.98 90.5,385.4 C91.28,389.82 92.3,390.18 92.9,395 C93.5,399.82 93.3,409.88 94.1,414.3 C94.9,418.72 96.9,419.08 97.7,421.5 C98.5,423.92 97.82,425.58 98.9,428.8 C99.98,432.02 101.78,437.18 104.2,440.8 C106.62,444.42 112.67,447.68 113.4,450.5 C114.13,453.32 111.42,455.57 108.6,457.7 C105.78,459.83 98.52,462.37 96.5,463.3 L87.5,463.3 Z" fill="#2364aa"/>
<g fill="#2364aa" fill-opacity="0.4"><circle cx="76.5" cy="298.6" r="3"/><circle cx="77.9" cy="305.3" r="3"/><circle cx="75.9" cy="312.8" r="3"/><circle cx="76.5" cy="321.5" r="3"/><circle cx="75.5" cy="325.6" r="3"/><circle cx="78.5" cy="327.6" r="3"/><circle cx="79.1" cy="341.2" r="3"/><circle cx="75.9" cy="353.4" r="3"/><circle cx="79.6" cy="363.1" r="3"/><circle cx="75.1" cy="371.3" r="3"/><circle cx="78.5" cy="371.7" r="3"/><circle cx="76.85" cy="456.88" r="3"/><circle cx="76.87" cy="425.21" r="3"/><circle cx="79.69" cy="435.18" r="3"/><circle cx="73.89" cy="427.86" r="3"/><circle cx="74.94" cy="419.67" r="3"/><circle cx="76.58" cy="392.74" r="3"/><circle cx="75.69" cy="448.98" r="3"/><circle cx="75.06" cy="449.65" r="3"/><circle cx="79.68" cy="455.57" r="3"/><circle cx="77.58" cy="407.36" r="3"/><circle cx="74.32" cy="443.18" r="3"/><circle cx="75.28" cy="441.26" r="3"/><circle cx="78.58" cy="379.5" r="3"/><circle cx="78.19" cy="412.06" r="3"/><circle cx="74.4" cy="450.31" r="3"/><circle cx="75.35" cy="462.99" r="3"/><circle cx="75.58" cy="442.63" r="3"/><circle cx="77.41" cy="424.78" r="3"/><circle cx="77.25" cy="460.16" r="3"/><circle cx="74.72" cy="451.45" r="3"/><circle cx="75.3" cy="455.39" r="3"/><circle cx="79.5" cy="458.4" r="3"/><circle cx="76.33" cy="452.93" r="3"/><circle cx="79.58" cy="379.76" r="3"/><circle cx="74.85" cy="426.07" r="3"/><circle cx="75.17" cy="437.71" r="3"/><circle cx="79.3" cy="427.74" r="3"/><circle cx="75.42" cy="389.17" r="3"/><circle cx="74.86" cy="411.9" r="3"/><circle cx="74.01" cy="424.94" r="3"/><circle cx="76.3" cy="454.68" r="3"/><circle cx="77.64" cy="427.23" r="3"/><circle cx="78.21" cy="438.45" r="3"/><circle cx="78.3" cy="448.81" r="3"/><circle cx="77.99" cy="415.21" r="3"/><circle cx="73.87" cy="456.52" r="3"/><circle cx="76.45" cy="455.14" r="3"/><circle cx="77.8" cy="453.82" r="3"/><circle cx="77.3" cy="452.75" r="3"/><circle cx="76.78" cy="399.75" r="3"/><circle cx="78.07" cy="448.69" r="3"/><circle cx="74.81" cy="459.3" r="3"/><circle cx="79.04" cy="377.02" r="3"/><circle cx="78.55" cy="423.63" r="3"/><circle cx="78.78" cy="412.75" r="3"/><circle cx="74.08" cy="392.32" r="3"/><circle cx="76.65" cy="434.34" r="3"/><circle cx="76.63" cy="386.8" r="3"/><circle cx="75.43" cy="437.13" r="3"/><circle cx="78.55" cy="441.08" r="3"/><circle cx="79.4" cy="455.19" r="3"/><circle cx="76.52" cy="437.9" r="3"/><circle cx="79.47" cy="452.66" r="3"/><circle cx="78.11" cy="446.92" r="3"/><circle cx="74.3" cy="450.44" r="3"/><circle cx="73.97" cy="442.21" r="3"/><circle cx="78.6" cy="446.06" r="3"/><circle cx="74.69" cy="444.06" r="3"/><circle cx="79.47" cy="448.96" r="3"/><circle cx="78.17" cy="419.51" r="3"/><circle cx="75.67" cy="449.3" r="3"/><circle cx="78.9" cy="454.65" r="3"/><circle cx="77.24" cy="461.03" r="3"/><circle cx="76.75" cy="445.3" r="3"/><circle cx="77.03" cy="434.95" r="3"/><circle cx="76.64" cy="456.8" r="3"/><circle cx="78.48" cy="456.98" r="3"/><circle cx="78.19" cy="428.26" r="3"/><circle cx="75.03" cy="419.76" r="3"/><circle cx="79.79" cy="456.74" r="3"/><circle cx="75.24" cy="453.43" r="3"/><circle cx="74.38" cy="438.3" r="3"/><circle cx="78.54" cy="448.22" r="3"/><circle cx="75.01" cy="434.41" r="3"/><circle cx="76.83" cy="461.03" r="3"/><circle cx="77.91" cy="441.27" r="3"/><circle cx="74.44" cy="387.77" r="3"/><circle cx="79.51" cy="378.95" r="3"/><circle cx="78.01" cy="426.49" r="3"/><circle cx="76.52" cy="449.36" r="3"/><circle cx="74.97" cy="439.5" r="3"/><circle cx="78.96" cy="445.36" r="3"/><circle cx="77.4" cy="429.16" r="3"/><circle cx="79.27" cy="445.65" r="3"/><circle cx="79.18" cy="446.58" r="3"/><circle cx="78.4" cy="452.71" r="3"/><circle cx="78.14" cy="441.93" r="3"/><circle cx="75.93" cy="414.07" r="3"/><circle cx="77.76" cy="432.61" r="3"/><circle cx="76.21" cy="439.45" r="3"/><circle cx="75.31" cy="405.31" r="3"/><circle cx="76.85" cy="455.13" r="3"/><circle cx="77.39" cy="446.1" r="3"/><circle cx="79.38" cy="441.37" r="3"/><circle cx="79.47" cy="427.45" r="3"/><circle cx="75.51" cy="426.2" r="3"/><circle cx="75.27" cy="397.83" r="3"/><circle cx="79.19" cy="440.94" r="3"/><circle cx="79.73" cy="440.35" r="3"/><circle cx="79.23" cy="458.78" r="3"/><circle cx="76.94" cy="461.48" r="3"/><circle cx="76.61" cy="458.1" r="3"/><circle cx="77.55" cy="426.74" r="3"/><circle cx="74.11" cy="412.83" r="3"/><circle cx="76.46" cy="419.64" r="3"/><circle cx="75.37" cy="432.78" r="3"/><circle cx="79.79" cy="443.13" r="3"/><circle cx="79.16" cy="392.41" r="3"/><circle cx="75.96" cy="443.73" r="3"/><circle cx="74.16" cy="452.6" r="3"/><circle cx="77.05" cy="428.59" r="3"/><circle cx="76.67" cy="429.32" r="3"/><circle cx="78.41" cy="446.06" r="3"/><circle cx="77.09" cy="462.98" r="3"/><circle cx="78.45" cy="434.42" r="3"/><circle cx="75.62" cy="432.24" r="3"/><circle cx="75.95" cy="396.59" r="3"/><circle cx="74.5" cy="438.24" r="3"/><circle cx="79.31" cy="436.67" r="3"/><circle cx="75.97" cy="454.1" r="3"/><circle cx="78.82" cy="444.93" r="3"/><circle cx="78.35" cy="422.9" r="3"/><circle cx="73.93" cy="452.8" r="3"/><circle cx="74.29" cy="444.08" r="3"/><circle cx="75.12" cy="431.01" r="3"/><circle cx="78.39" cy="441.94" r="3"/><circle cx="78.76" cy="456.01" r="3"/><circle cx="75.65" cy="461.16" r="3"/><circle cx="74.17" cy="442.94" r="3"/><circle cx="74.45" cy="455.47" r="3"/><circle cx="74.91" cy="425.91" r="3"/><circle cx="78.35" cy="396.42" r="3"/><circle cx="75.36" cy="446.81" r="3"/><circle cx="75.85" cy="453.42" r="3"/><circle cx="74.1" cy="415.37" r="3"/><circle cx="79.74" cy="418.49" r="3"/><circle cx="73.87" cy="431.81" r="3"/><circle cx="77.44" cy="444.9" r="3"/><circle cx="77.62" cy="451.71" r="3"/><circle cx="77.01" cy="463.35" r="3"/><circle cx="74.29" cy="449.54" r="3"/><circle cx="78.79" cy="419.41" r="3"/><circle cx="73.87" cy="448" r="3"/><circle cx="79.75" cy="413.06" r="3"/><circle cx="77.5" cy="445.15" r="3"/><circle cx="75.82" cy="420.74" r="3"/><circle cx="79.47" cy="438.76" r="3"/><circle cx="76.21" cy="436.58" r="3"/><circle cx="74.34" cy="448.67" r="3"/><circle cx="74.54" cy="391.3" r="3"/><circle cx="79.32" cy="408.24" r="3"/><circle cx="75.79" cy="447.18" r="3"/><circle cx="76.2" cy="408.74" r="3"/><circle cx="77.45" cy="444.23" r="3"/><circle cx="74.75" cy="447.57" r="3"/><circle cx="76.8" cy="421.54" r="3"/><circle cx="74.3" cy="428.95" r="3"/><circle cx="79.37" cy="435.53" r="3"/><circle cx="79.26" cy="422.67" r="3"/><circle cx="78.75" cy="426.54" r="3"/><circle cx="77.09" cy="448.09" r="3"/><circle cx="74.88" cy="377.17" r="3"/><circle cx="77.83" cy="431.89" r="3"/><circle cx="77.35" cy="439.34" r="3"/><circle cx="75" cy="445.56" r="3"/><circle cx="76.12" cy="413.99" r="3"/><circle cx="76.92" cy="423.53" r="3"/><circle cx="79.77" cy="440.66" r="3"/><circle cx="76.25" cy="448.79" r="3"/><circle cx="76.95" cy="455.09" r="3"/><circle cx="78.15" cy="400.14" r="3"/><circle cx="77.39" cy="454.61" r="3"/><circle cx="77.36" cy="440.68" r="3"/><circle cx="77.97" cy="407.29" r="3"/><circle cx="75.64" cy="419.46" r="3"/><circle cx="74.21" cy="407.18" r="3"/><circle cx="75.26" cy="459.39" r="3"/><circle cx="75.94" cy="446.65" r="3"/><circle cx="73.99" cy="425.04" r="3"/><circle cx="76.79" cy="454.46" r="3"/><circle cx="75.57" cy="414.43" r="3"/><circle cx="77.59" cy="463.57" r="3"/><circle cx="79.2" cy="438.22" r="3"/><circle cx="74.61" cy="451.74" r="3"/><circle cx="75.14" cy="411.84" r="3"/><circle cx="77.77" cy="444.31" r="3"/><circle cx="75.17" cy="453.14" r="3"/><circle cx="77.64" cy="432.7" r="3"/><circle cx="77.4" cy="419.9" r="3"/><circle cx="75.51" cy="445.5" r="3"/><circle cx="75.47" cy="441.03" r="3"/><circle cx="79.18" cy="421.52" r="3"/><circle cx="76.57" cy="462.85" r="3"/><circle cx="79.38" cy="440.56" r="3"/><circle cx="77.14" cy="416.99" r="3"/><circle cx="77.75" cy="430.63" r="3"/><circle cx="76.83" cy="443.6" r="3"/><circle cx="76.92" cy="449.47" r="3"/><circle cx="78.48" cy="459.44" r="3"/><circle cx="76.73" cy="444.37" r="3"/><circle cx="77.38" cy="416.9" r="3"/><circle cx="79.04" cy="437.18" r="3"/><circle cx="74.68" cy="444.41" r="3"/><circle cx="75.69" cy="399.23" r="3"/><circle cx="74.17" cy="448.11" r="3"/><circle cx="75.24" cy="440.02" r="3"/><circle cx="76.16" cy="453.67" r="3"/><circle cx="79.78" cy="377.19" r="3"/><circle cx="76.57" cy="421.88" r="3"/><circle cx="75.82" cy="457.65" r="3"/><circle cx="75.86" cy="431.08" r="3"/><circle cx="78.49" cy="449.25" r="3"/><circle cx="76.1" cy="451.1" r="3"/><circle cx="75.41" cy="456.81" r="3"/><circle cx="79.42" cy="403.94" r="3"/><circle cx="79.09" cy="406.13" r="3"/><circle cx="76.16" cy="418.81" r="3"/><circle cx="74.71" cy="392.4" r="3"/><circle cx="75.67" cy="425.97" r="3"/><circle cx="75.03" cy="432.62" r="3"/><circle cx="75.55" cy="451.4" r="3"/><circle cx="74.04" cy="402.43" r="3"/><circle cx="77.82" cy="461.71" r="3"/><circle cx="77.94" cy="456.39" r="3"/><circle cx="77.6" cy="451.63" r="3"/><circle cx="76.1" cy="406.89" r="3"/><circle cx="76.21" cy="396.3" r="3"/><circle cx="77.79" cy="414.67" r="3"/><circle cx="75.85" cy="392.54" r="3"/><circle cx="77.3" cy="409.7" r="3"/><circle cx="78" cy="435.93" r="3"/><circle cx="76.23" cy="404.24" r="3"/><circle cx="75.37" cy="453.83" r="3"/><circle cx="76.62" cy="432.8" r="3"/><circle cx="79.26" cy="452.69" r="3"/><circle cx="75.96" cy="417.67" r="3"/><circle cx="74.95" cy="461.84" r="3"/><circle cx="77.06" cy="392.05" r="3"/><circle cx="75.88" cy="461.07" r="3"/><circle cx="78.1" cy="453.32" r="3"/><circle cx="75.22" cy="440.4" r="3"/><circle cx="74.21" cy="381.84" r="3"/><circle cx="74.78" cy="442.58" r="3"/><circle cx="74.12" cy="451.43" r="3"/><circle cx="78.1" cy="444.87" r="3"/><circle cx="76.32" cy="447.88" r="3"/><circle cx="74.55" cy="448.11" r="3"/><circle cx="78.08" cy="462.95" r="3"/><circle cx="75.52" cy="381.13" r="3"/><circle cx="76.15" cy="448.84" r="3"/><circle cx="77.96" cy="462.21" r="3"/><circle cx="74.19" cy="394.4" r="3"/><circle cx="74.27" cy="453.91" r="3"/><circle cx="79" cy="463.73" r="3"/><circle cx="74.15" cy="445.86" r="3"/><circle cx="79.43" cy="428.57" r="3"/><circle cx="73.96" cy="438.15" r="3"/><circle cx="74.25" cy="385.87" r="3"/><circle cx="76.96" cy="460.17" r="3"/><circle cx="78.21" cy="446.15" r="3"/></g>
<line x1="64.9" y1="423.2" x2="64.9" y2="438" stroke="#000" stroke-width="1.7" />
<circle cx="64.9" cy="430.9" r="2.9" fill="#fff" stroke="#000" stroke-width="1.3"/>
<polygon points="96.5,352.01 97.09,353.78 98.97,353.8 97.46,354.91 98.02,356.7 96.5,355.61 94.98,356.7 95.54,354.91 94.03,353.8 95.91,353.78" fill="#111" stroke="#111" stroke-width="0.15" stroke-linejoin="round"/>
<polygon points="102.5,352.01 103.09,353.78 104.97,353.8 103.46,354.91 104.02,356.7 102.5,355.61 100.98,356.7 101.54,354.91 100.03,353.8 101.91,353.78" fill="#111" stroke="#111" stroke-width="0.15" stroke-linejoin="round"/>
<polygon points="108.5,352.01 109.09,353.78 110.97,353.8 109.46,354.91 110.02,356.7 108.5,355.61 106.98,356.7 107.54,354.91 106.03,353.8 107.91,353.78" fill="#111" stroke="#111" stroke-width="0.15" stroke-linejoin="round"/>
<path d="M146.9,299.7 L147.6,299.7 C147.93,305.13 148.47,320.83 149.6,332.3 C150.73,343.77 153,358.45 154.4,368.5 C155.8,378.55 157.12,384.17 158,392.6 C158.88,401.03 159.5,412.27 159.7,419.1 C159.9,425.93 160.08,427.05 159.2,433.6 C158.32,440.15 155.2,454.27 154.4,458.4 L146.9,458.4 Z" fill="#b03545"/>
<g fill="#b03545" fill-opacity="0.4"><circle cx="133.9" cy="299.8" r="3"/><circle cx="135.4" cy="311.4" r="3"/><circle cx="138" cy="315.5" r="3"/><circle cx="133.3" cy="323" r="3"/><circle cx="134.3" cy="329" r="3"/><circle cx="134.8" cy="334.7" r="3"/><circle cx="139.4" cy="335.7" r="3"/><circle cx="136.8" cy="341.8" r="3"/><circle cx="134.3" cy="354" r="3"/><circle cx="138.4" cy="354" r="3"/><circle cx="136.4" cy="361.1" r="3"/><circle cx="137.8" cy="405.12" r="3"/><circle cx="136.05" cy="370.76" r="3"/><circle cx="137.15" cy="427.48" r="3"/><circle cx="136.44" cy="424.45" r="3"/><circle cx="138.85" cy="390.88" r="3"/><circle cx="139.29" cy="357.93" r="3"/><circle cx="139.72" cy="408.67" r="3"/><circle cx="136.34" cy="453.98" r="3"/><circle cx="137.53" cy="369.98" r="3"/><circle cx="138.69" cy="361.32" r="3"/><circle cx="137.38" cy="397.45" r="3"/><circle cx="133.98" cy="405.35" r="3"/><circle cx="139.66" cy="431.17" r="3"/><circle cx="135.98" cy="424.68" r="3"/><circle cx="134.48" cy="427.43" r="3"/><circle cx="136.87" cy="380.32" r="3"/><circle cx="133.97" cy="439.85" r="3"/><circle cx="136.91" cy="441.14" r="3"/><circle cx="136.13" cy="378.99" r="3"/><circle cx="137.1" cy="435.89" r="3"/><circle cx="135.87" cy="359.81" r="3"/><circle cx="136.56" cy="421.92" r="3"/><circle cx="136.66" cy="377.61" r="3"/><circle cx="139.54" cy="455.23" r="3"/><circle cx="138.29" cy="393.69" r="3"/><circle cx="135.41" cy="450.4" r="3"/><circle cx="135.25" cy="435.76" r="3"/><circle cx="137.51" cy="356.89" r="3"/><circle cx="135.73" cy="408.12" r="3"/><circle cx="137.64" cy="437.5" r="3"/><circle cx="136.66" cy="379.75" r="3"/><circle cx="139.48" cy="420.89" r="3"/><circle cx="135.55" cy="448.56" r="3"/><circle cx="139.46" cy="446.37" r="3"/><circle cx="138.03" cy="409.32" r="3"/><circle cx="135.33" cy="378.16" r="3"/><circle cx="134.59" cy="426.72" r="3"/><circle cx="135.25" cy="447.75" r="3"/><circle cx="139.32" cy="413.95" r="3"/><circle cx="139.21" cy="399.23" r="3"/><circle cx="135.88" cy="437.69" r="3"/><circle cx="137.18" cy="394.14" r="3"/><circle cx="136.08" cy="411.37" r="3"/><circle cx="135.67" cy="366.17" r="3"/><circle cx="134.55" cy="412.06" r="3"/><circle cx="136.16" cy="411.3" r="3"/><circle cx="135.74" cy="381.44" r="3"/><circle cx="134.34" cy="426.93" r="3"/><circle cx="138.36" cy="388.34" r="3"/><circle cx="135.99" cy="424.25" r="3"/><circle cx="136.46" cy="359.08" r="3"/><circle cx="135.76" cy="391.32" r="3"/><circle cx="135.96" cy="453.68" r="3"/><circle cx="136.39" cy="384.95" r="3"/><circle cx="134.77" cy="407.86" r="3"/><circle cx="138.86" cy="404.09" r="3"/><circle cx="138.93" cy="381.86" r="3"/><circle cx="137.03" cy="442.08" r="3"/><circle cx="137.84" cy="434.79" r="3"/><circle cx="137.12" cy="424.65" r="3"/><circle cx="138.19" cy="426.46" r="3"/><circle cx="135.97" cy="389.35" r="3"/><circle cx="135.15" cy="387.79" r="3"/><circle cx="134.08" cy="412.34" r="3"/><circle cx="139.42" cy="439.17" r="3"/><circle cx="139.04" cy="417.97" r="3"/><circle cx="134.56" cy="448.86" r="3"/><circle cx="137.45" cy="422.34" r="3"/><circle cx="137.51" cy="437.18" r="3"/><circle cx="136.08" cy="383.24" r="3"/><circle cx="138.64" cy="395.81" r="3"/><circle cx="135.33" cy="373.58" r="3"/><circle cx="134.12" cy="456.5" r="3"/><circle cx="138.21" cy="440.99" r="3"/><circle cx="138.99" cy="387.62" r="3"/><circle cx="139.08" cy="442.22" r="3"/><circle cx="133.88" cy="358.55" r="3"/><circle cx="138.09" cy="373.7" r="3"/><circle cx="134.9" cy="386.7" r="3"/><circle cx="137.91" cy="418.81" r="3"/><circle cx="136.97" cy="411.5" r="3"/><circle cx="136.83" cy="423.43" r="3"/><circle cx="137.6" cy="421.78" r="3"/><circle cx="136.9" cy="396.21" r="3"/><circle cx="139.35" cy="430" r="3"/><circle cx="137.94" cy="406.88" r="3"/><circle cx="137.45" cy="400.18" r="3"/><circle cx="134.58" cy="434.03" r="3"/><circle cx="134.31" cy="362.46" r="3"/><circle cx="135.3" cy="361.84" r="3"/><circle cx="139.56" cy="419.74" r="3"/><circle cx="133.97" cy="433.29" r="3"/><circle cx="138.34" cy="405.21" r="3"/><circle cx="135.7" cy="399.84" r="3"/><circle cx="137.44" cy="381.02" r="3"/><circle cx="135.97" cy="435.2" r="3"/><circle cx="133.88" cy="418.11" r="3"/><circle cx="138.19" cy="379.65" r="3"/><circle cx="135.84" cy="441.47" r="3"/><circle cx="139.74" cy="395.5" r="3"/><circle cx="137.55" cy="406.2" r="3"/><circle cx="135.18" cy="411.47" r="3"/><circle cx="134.56" cy="395.88" r="3"/><circle cx="138.27" cy="411.99" r="3"/><circle cx="134.41" cy="382.1" r="3"/><circle cx="134.84" cy="432.28" r="3"/><circle cx="137.26" cy="412.72" r="3"/><circle cx="135.93" cy="395.16" r="3"/><circle cx="136.81" cy="459.25" r="3"/><circle cx="136.2" cy="403.6" r="3"/><circle cx="136" cy="377.21" r="3"/><circle cx="137.75" cy="386.73" r="3"/><circle cx="137.69" cy="397.12" r="3"/><circle cx="138.66" cy="366.47" r="3"/><circle cx="135.5" cy="373.76" r="3"/><circle cx="134.98" cy="443.06" r="3"/><circle cx="137.34" cy="422.04" r="3"/><circle cx="135.96" cy="396.55" r="3"/><circle cx="135.24" cy="430.01" r="3"/><circle cx="136.81" cy="410.44" r="3"/><circle cx="138.09" cy="424.56" r="3"/><circle cx="133.95" cy="392.77" r="3"/><circle cx="138.82" cy="449.4" r="3"/><circle cx="135.35" cy="399.56" r="3"/><circle cx="134.1" cy="398.83" r="3"/><circle cx="134.75" cy="368.1" r="3"/><circle cx="137.41" cy="395.3" r="3"/><circle cx="135.17" cy="452.56" r="3"/><circle cx="136" cy="452.44" r="3"/><circle cx="138.55" cy="435.21" r="3"/><circle cx="139.24" cy="382.98" r="3"/><circle cx="136.42" cy="442.86" r="3"/><circle cx="134.27" cy="393.18" r="3"/><circle cx="137.17" cy="451.25" r="3"/><circle cx="138.88" cy="412.89" r="3"/><circle cx="139.74" cy="410.62" r="3"/><circle cx="138.6" cy="378.76" r="3"/><circle cx="138.46" cy="433.28" r="3"/><circle cx="137.7" cy="426.1" r="3"/><circle cx="134.29" cy="393.6" r="3"/><circle cx="139.65" cy="368.76" r="3"/><circle cx="134.6" cy="370.56" r="3"/><circle cx="134.86" cy="456" r="3"/><circle cx="136.22" cy="457.21" r="3"/><circle cx="137.22" cy="424.39" r="3"/><circle cx="138.74" cy="428.56" r="3"/><circle cx="138.33" cy="433.72" r="3"/><circle cx="133.92" cy="400.89" r="3"/><circle cx="134.36" cy="420.41" r="3"/><circle cx="135.75" cy="406.72" r="3"/><circle cx="136.98" cy="414.61" r="3"/><circle cx="139.39" cy="361.96" r="3"/><circle cx="135.03" cy="424.46" r="3"/><circle cx="136.38" cy="362.82" r="3"/><circle cx="139.79" cy="440.79" r="3"/><circle cx="139.27" cy="436.65" r="3"/><circle cx="139.56" cy="388.77" r="3"/><circle cx="136.68" cy="447.2" r="3"/><circle cx="134.2" cy="377.09" r="3"/><circle cx="139.18" cy="365.72" r="3"/><circle cx="137.84" cy="452.49" r="3"/><circle cx="138.04" cy="404.43" r="3"/><circle cx="134.81" cy="426.17" r="3"/><circle cx="134.73" cy="404.81" r="3"/><circle cx="134.85" cy="376.87" r="3"/></g>
<line x1="124.6" y1="404.5" x2="124.6" y2="421.7" stroke="#000" stroke-width="1.7" />
<circle cx="124.6" cy="413.6" r="2.9" fill="#fff" stroke="#000" stroke-width="1.3"/>
<path d="M230.4,328.3 L232.1,328.3 C232.02,333.32 231.6,349.35 231.6,358.4 C231.6,367.45 231.5,375.75 232.1,382.6 C232.7,389.45 234.4,394.27 235.2,399.5 C236,404.73 236.9,409.17 236.9,414 C236.9,418.83 235.97,423.27 235.2,428.5 C234.43,433.73 232.82,440.3 232.3,445.4 C231.78,450.5 232.13,456.82 232.1,459.1 L230.4,459.1 Z" fill="#2364aa"/>
<g fill="#2364aa" fill-opacity="0.4"><circle cx="223.1" cy="327.5" r="3"/><circle cx="224.4" cy="376.1" r="3"/><circle cx="221.9" cy="403.1" r="3"/><circle cx="223.6" cy="411.1" r="3"/><circle cx="225.6" cy="415.9" r="3"/><circle cx="223.1" cy="422" r="3"/><circle cx="224.8" cy="459.1" r="3"/></g>
<line x1="215.4" y1="404.3" x2="215.4" y2="445.9" stroke="#000" stroke-width="1.7" />
<circle cx="215.4" cy="430.9" r="2.9" fill="#fff" stroke="#000" stroke-width="1.3"/>
<path d="M269.8,301.7 L271,301.7 C271.07,309.15 271.2,332.92 271.4,346.4 C271.6,359.88 271.78,372.55 272.2,382.6 C272.62,392.65 273.55,399.45 273.9,406.7 C274.25,413.95 274.5,420.05 274.3,426.1 C274.1,432.15 273.1,438.98 272.7,443 C272.3,447.02 272.03,449 271.9,450.2 L269.8,450.2 Z" fill="#b03545"/>
<g fill="#b03545" fill-opacity="0.4"><circle cx="263.7" cy="301.7" r="3"/><circle cx="263" cy="316.9" r="3"/><circle cx="261.3" cy="324.6" r="3"/><circle cx="261.3" cy="371" r="3"/><circle cx="261.3" cy="383.8" r="3"/><circle cx="263" cy="386.2" r="3"/><circle cx="263" cy="391" r="3"/><circle cx="264.2" cy="401.4" r="3"/><circle cx="263.7" cy="409.9" r="3"/><circle cx="262.3" cy="417.6" r="3"/><circle cx="263.7" cy="420" r="3"/><circle cx="264.2" cy="425.6" r="3"/><circle cx="262.3" cy="430.9" r="3"/><circle cx="263.7" cy="436.9" r="3"/><circle cx="261.3" cy="444.2" r="3"/><circle cx="263.7" cy="450.2" r="3"/><circle cx="264.23" cy="391.24" r="3"/><circle cx="264.1" cy="426.58" r="3"/><circle cx="263.31" cy="393.51" r="3"/><circle cx="264.28" cy="448.47" r="3"/></g>
<line x1="255" y1="388.6" x2="255" y2="422.4" stroke="#000" stroke-width="1.7" />
<circle cx="255" cy="408" r="2.9" fill="#fff" stroke="#000" stroke-width="1.3"/>
<path d="M328.9,301 L329.4,301 C329.4,313.8 329.28,360.98 329.4,377.8 C329.52,394.62 329.7,394.67 330.1,401.9 C330.5,409.13 330.92,415.57 331.8,421.2 C332.68,426.83 333.78,431.27 335.4,435.7 C337.02,440.13 340.17,444.58 341.5,447.8 C342.83,451.02 343.6,452.78 343.4,455 C343.2,457.22 341.63,459.48 340.3,461.1 C338.97,462.72 336.22,464.1 335.4,464.7 L328.9,464.7 Z" fill="#2364aa"/>
<g fill="#2364aa" fill-opacity="0.4"><circle cx="323.4" cy="300.5" r="3"/><circle cx="322.1" cy="315" r="3"/><circle cx="321.7" cy="388.6" r="3"/><circle cx="323.8" cy="392.3" r="3"/><circle cx="323.4" cy="406.3" r="3"/><circle cx="320.2" cy="411.6" r="3"/><circle cx="322.1" cy="416.4" r="3"/><circle cx="323.4" cy="418.8" r="3"/><circle cx="320.9" cy="424.9" r="3"/><circle cx="322.6" cy="426.1" r="3"/><circle cx="323.22" cy="437.45" r="3"/><circle cx="324.31" cy="452.97" r="3"/><circle cx="320.22" cy="434.78" r="3"/><circle cx="320.19" cy="433.37" r="3"/><circle cx="319.56" cy="454.79" r="3"/><circle cx="320.11" cy="447.39" r="3"/><circle cx="321.55" cy="438.75" r="3"/><circle cx="322.72" cy="458.57" r="3"/><circle cx="320.52" cy="428.53" r="3"/><circle cx="324.45" cy="433.35" r="3"/><circle cx="324.02" cy="457.56" r="3"/><circle cx="323.62" cy="458.16" r="3"/><circle cx="323.94" cy="462.65" r="3"/><circle cx="324.31" cy="437.37" r="3"/><circle cx="323.68" cy="445.77" r="3"/><circle cx="321.54" cy="448.59" r="3"/><circle cx="321.54" cy="441.29" r="3"/><circle cx="319.47" cy="439.45" r="3"/><circle cx="323.97" cy="457.92" r="3"/><circle cx="323.26" cy="463.98" r="3"/><circle cx="323.64" cy="448.23" r="3"/><circle cx="323.17" cy="432.92" r="3"/><circle cx="319.87" cy="444.18" r="3"/><circle cx="322.15" cy="435.4" r="3"/><circle cx="321.73" cy="437.25" r="3"/><circle cx="321.31" cy="450.1" r="3"/><circle cx="321.94" cy="432.77" r="3"/><circle cx="320.26" cy="436.59" r="3"/><circle cx="321.12" cy="435.1" r="3"/><circle cx="323" cy="430.67" r="3"/><circle cx="321.27" cy="462.81" r="3"/><circle cx="324.86" cy="454.24" r="3"/><circle cx="319.64" cy="429.58" r="3"/><circle cx="324.23" cy="457.42" r="3"/><circle cx="319.75" cy="451.33" r="3"/><circle cx="324.43" cy="443.09" r="3"/><circle cx="324" cy="460.35" r="3"/><circle cx="324.33" cy="435.41" r="3"/><circle cx="323.43" cy="441.68" r="3"/><circle cx="325.11" cy="433" r="3"/><circle cx="323.47" cy="450.03" r="3"/><circle cx="322.77" cy="435.73" r="3"/><circle cx="322.6" cy="449.2" r="3"/><circle cx="323.5" cy="441.12" r="3"/><circle cx="320.65" cy="440.46" r="3"/><circle cx="323.21" cy="434" r="3"/><circle cx="320.19" cy="432.1" r="3"/><circle cx="322.95" cy="430.52" r="3"/><circle cx="322.29" cy="448.3" r="3"/><circle cx="321.6" cy="429.42" r="3"/><circle cx="319.31" cy="440.52" r="3"/><circle cx="325.29" cy="428.11" r="3"/><circle cx="320.69" cy="432.44" r="3"/><circle cx="322.64" cy="437.82" r="3"/><circle cx="321.8" cy="430.83" r="3"/><circle cx="324.21" cy="441.38" r="3"/><circle cx="320.91" cy="428.21" r="3"/><circle cx="325.1" cy="446.12" r="3"/><circle cx="321.83" cy="446.86" r="3"/><circle cx="320.66" cy="452.44" r="3"/><circle cx="322.01" cy="429.16" r="3"/><circle cx="323.57" cy="461.23" r="3"/><circle cx="323.21" cy="437.43" r="3"/><circle cx="320.41" cy="458.99" r="3"/><circle cx="321.05" cy="449.46" r="3"/><circle cx="320.6" cy="436.92" r="3"/><circle cx="321.02" cy="435.44" r="3"/><circle cx="321.32" cy="429.39" r="3"/><circle cx="323.7" cy="431.17" r="3"/><circle cx="318.73" cy="449.89" r="3"/><circle cx="319.96" cy="456.25" r="3"/><circle cx="322.36" cy="445.55" r="3"/><circle cx="320.61" cy="440.15" r="3"/><circle cx="319.6" cy="443.88" r="3"/><circle cx="319.44" cy="459.52" r="3"/></g>
<line x1="313.7" y1="435.7" x2="313.7" y2="448" stroke="#000" stroke-width="1.7" />
<circle cx="313.7" cy="443" r="2.9" fill="#fff" stroke="#000" stroke-width="1.3"/>
<polygon points="332.6,350.51 333.19,352.28 335.07,352.3 333.56,353.41 334.12,355.2 332.6,354.11 331.08,355.2 331.64,353.41 330.13,352.3 332.01,352.28" fill="#111" stroke="#111" stroke-width="0.15" stroke-linejoin="round"/>
<polygon points="338.6,350.51 339.19,352.28 341.07,352.3 339.56,353.41 340.12,355.2 338.6,354.11 337.08,355.2 337.64,353.41 336.13,352.3 338.01,352.28" fill="#111" stroke="#111" stroke-width="0.15" stroke-linejoin="round"/>
<polygon points="344.6,350.51 345.19,352.28 347.07,352.3 345.56,353.41 346.12,355.2 344.6,354.11 343.08,355.2 343.64,353.41 342.13,352.3 344.01,352.28" fill="#111" stroke="#111" stroke-width="0.15" stroke-linejoin="round"/>
<path d="M368.5,356 L370,356 C370.07,360.43 370.2,374.15 370.4,382.6 C370.6,391.05 370.78,398.65 371.2,406.7 C371.62,414.75 372.7,424.45 372.9,430.9 C373.1,437.35 372.68,441.18 372.4,445.4 C372.12,449.62 371.4,454.4 371.2,456.2 L368.5,456.2 Z" fill="#b03545"/>
<g fill="#b03545" fill-opacity="0.4"><circle cx="360.3" cy="356" r="3"/><circle cx="358.9" cy="359.7" r="3"/><circle cx="362.7" cy="364.5" r="3"/><circle cx="360.3" cy="368.1" r="3"/><circle cx="359.6" cy="374.9" r="3"/><circle cx="360.8" cy="383.8" r="3"/><circle cx="363.2" cy="389.8" r="3"/><circle cx="361.3" cy="394.7" r="3"/><circle cx="362.7" cy="399.5" r="3"/><circle cx="360.3" cy="405.5" r="3"/><circle cx="363.2" cy="406.7" r="3"/><circle cx="361.3" cy="411.6" r="3"/><circle cx="360.3" cy="421.2" r="3"/><circle cx="361.3" cy="428.5" r="3"/><circle cx="362.7" cy="430.9" r="3"/><circle cx="360.8" cy="438.1" r="3"/><circle cx="362" cy="443" r="3"/><circle cx="362.7" cy="447.8" r="3"/><circle cx="360.3" cy="456.2" r="3"/><circle cx="360.13" cy="374.05" r="3"/><circle cx="363.34" cy="448.45" r="3"/><circle cx="359.68" cy="420.77" r="3"/><circle cx="358.93" cy="456.38" r="3"/><circle cx="363.15" cy="441.11" r="3"/><circle cx="360.12" cy="421.26" r="3"/><circle cx="363.63" cy="365.64" r="3"/><circle cx="360.13" cy="456.21" r="3"/><circle cx="361.94" cy="394.85" r="3"/></g>
<line x1="353.5" y1="410.4" x2="353.5" y2="430.9" stroke="#000" stroke-width="1.7" />
<circle cx="353.5" cy="422.4" r="2.9" fill="#fff" stroke="#000" stroke-width="1.3"/>
<path d="M427.7,309 L428.4,309 C428.43,318.05 428.48,351.03 428.6,363.3 C428.72,375.57 428.73,376.57 429.1,382.6 C429.47,388.63 430.2,393.87 430.8,399.5 C431.4,405.13 432.22,411.57 432.7,416.4 C433.18,421.23 433.7,424.07 433.7,428.5 C433.7,432.93 433.07,438.58 432.7,443 C432.33,447.42 431.62,451.67 431.5,455 C431.38,458.33 431.92,461.67 432,463 L427.7,463 Z" fill="#2364aa"/>
<g fill="#2364aa" fill-opacity="0.4"><circle cx="422.4" cy="308.2" r="3"/><circle cx="419.2" cy="323.4" r="3"/><circle cx="422.4" cy="326.6" r="3"/><circle cx="419.9" cy="329" r="3"/><circle cx="421.9" cy="343.2" r="3"/><circle cx="420.4" cy="356.5" r="3"/><circle cx="421.1" cy="365.2" r="3"/><circle cx="420.4" cy="373.4" r="3"/><circle cx="421.9" cy="378.2" r="3"/><circle cx="420.7" cy="385" r="3"/><circle cx="422.59" cy="409.47" r="3"/><circle cx="422.23" cy="438.71" r="3"/><circle cx="418.15" cy="418.95" r="3"/><circle cx="423.09" cy="416.03" r="3"/><circle cx="421.27" cy="436.69" r="3"/><circle cx="421.99" cy="439.13" r="3"/><circle cx="417.9" cy="398.29" r="3"/><circle cx="423.58" cy="422.12" r="3"/><circle cx="421.54" cy="440.86" r="3"/><circle cx="417.98" cy="436.85" r="3"/><circle cx="418.7" cy="455.05" r="3"/><circle cx="423.05" cy="423.17" r="3"/><circle cx="423.19" cy="426.79" r="3"/><circle cx="417.5" cy="395.76" r="3"/><circle cx="421.09" cy="444.9" r="3"/><circle cx="420.58" cy="440.75" r="3"/><circle cx="421.59" cy="425.61" r="3"/><circle cx="418.33" cy="459.9" r="3"/><circle cx="417.44" cy="442.11" r="3"/><circle cx="421.4" cy="420.94" r="3"/><circle cx="419.48" cy="459.9" r="3"/><circle cx="420.09" cy="424.43" r="3"/><circle cx="424.38" cy="391.63" r="3"/><circle cx="424.04" cy="433.25" r="3"/><circle cx="417.55" cy="416.05" r="3"/><circle cx="418.96" cy="400.04" r="3"/><circle cx="419.09" cy="454.91" r="3"/><circle cx="419.4" cy="434.6" r="3"/><circle cx="421.34" cy="446.5" r="3"/><circle cx="423.36" cy="446.17" r="3"/><circle cx="424.21" cy="416.67" r="3"/><circle cx="419.56" cy="430.22" r="3"/><circle cx="419.08" cy="458.1" r="3"/><circle cx="419.74" cy="459.49" r="3"/><circle cx="418.74" cy="408.84" r="3"/><circle cx="419.16" cy="441.26" r="3"/><circle cx="420.04" cy="422.78" r="3"/><circle cx="419.95" cy="448.27" r="3"/><circle cx="418.9" cy="421.09" r="3"/><circle cx="424.02" cy="438.57" r="3"/><circle cx="417.63" cy="438.59" r="3"/><circle cx="420.68" cy="419.69" r="3"/><circle cx="418" cy="459.53" r="3"/><circle cx="424.36" cy="454.44" r="3"/><circle cx="423.02" cy="459.31" r="3"/><circle cx="420.03" cy="412.04" r="3"/><circle cx="420.54" cy="433.46" r="3"/><circle cx="421.1" cy="448.21" r="3"/><circle cx="424.47" cy="437.76" r="3"/><circle cx="420.51" cy="453.57" r="3"/><circle cx="424.19" cy="391.21" r="3"/><circle cx="424.27" cy="449.89" r="3"/><circle cx="420.49" cy="428.53" r="3"/><circle cx="420.46" cy="457" r="3"/><circle cx="420.34" cy="432.56" r="3"/><circle cx="417.52" cy="420.62" r="3"/><circle cx="420.09" cy="454.07" r="3"/><circle cx="418.9" cy="428.24" r="3"/><circle cx="423.49" cy="406.8" r="3"/><circle cx="423.54" cy="407.62" r="3"/><circle cx="422.16" cy="431.15" r="3"/><circle cx="422.88" cy="440.81" r="3"/><circle cx="422.66" cy="421.01" r="3"/><circle cx="418.62" cy="436.19" r="3"/><circle cx="420.07" cy="417.14" r="3"/><circle cx="422.73" cy="434.49" r="3"/><circle cx="423.27" cy="415.3" r="3"/><circle cx="421.88" cy="412.45" r="3"/><circle cx="421.05" cy="429.3" r="3"/><circle cx="421.87" cy="440.53" r="3"/><circle cx="421.54" cy="394.02" r="3"/><circle cx="420.2" cy="457.28" r="3"/><circle cx="419.82" cy="424.94" r="3"/><circle cx="423.19" cy="430.95" r="3"/><circle cx="417.41" cy="464.43" r="3"/><circle cx="423" cy="401.97" r="3"/><circle cx="421.58" cy="406.08" r="3"/><circle cx="422.8" cy="422.1" r="3"/><circle cx="421.56" cy="450.97" r="3"/><circle cx="422.71" cy="404.52" r="3"/><circle cx="418.25" cy="417.45" r="3"/><circle cx="423.28" cy="454.17" r="3"/><circle cx="420.69" cy="397.02" r="3"/><circle cx="422.1" cy="418.14" r="3"/><circle cx="423.77" cy="462.39" r="3"/><circle cx="420.57" cy="414.58" r="3"/><circle cx="420.55" cy="436.76" r="3"/><circle cx="420.01" cy="390.12" r="3"/><circle cx="420.98" cy="407.42" r="3"/><circle cx="418.58" cy="458.16" r="3"/><circle cx="419.77" cy="461.76" r="3"/><circle cx="424.16" cy="451.22" r="3"/><circle cx="419.47" cy="429.89" r="3"/><circle cx="418.52" cy="407.43" r="3"/><circle cx="419.05" cy="461.53" r="3"/><circle cx="418.84" cy="436.83" r="3"/><circle cx="417.37" cy="408.1" r="3"/><circle cx="419.53" cy="444.87" r="3"/><circle cx="418.88" cy="456.89" r="3"/><circle cx="423.13" cy="461.86" r="3"/><circle cx="423.4" cy="450.65" r="3"/><circle cx="424.11" cy="420.76" r="3"/><circle cx="417.66" cy="423.1" r="3"/><circle cx="422.42" cy="455.85" r="3"/><circle cx="419.51" cy="427.09" r="3"/><circle cx="419.39" cy="413.53" r="3"/><circle cx="423.07" cy="413.38" r="3"/><circle cx="419.08" cy="390.09" r="3"/><circle cx="420.5" cy="461.37" r="3"/><circle cx="420.07" cy="459.76" r="3"/><circle cx="422.37" cy="419.14" r="3"/><circle cx="421.42" cy="410.66" r="3"/><circle cx="420.76" cy="446.88" r="3"/><circle cx="423.49" cy="423.3" r="3"/><circle cx="420.09" cy="424.76" r="3"/><circle cx="422.56" cy="416.59" r="3"/><circle cx="422.53" cy="410.88" r="3"/><circle cx="423.99" cy="439.09" r="3"/><circle cx="418.57" cy="433.89" r="3"/><circle cx="424" cy="391.97" r="3"/><circle cx="420.96" cy="392" r="3"/><circle cx="424.48" cy="397.06" r="3"/><circle cx="420.24" cy="389.92" r="3"/><circle cx="421.41" cy="455.46" r="3"/><circle cx="423.28" cy="449.74" r="3"/><circle cx="420.39" cy="390.92" r="3"/><circle cx="421.91" cy="435.88" r="3"/><circle cx="417.6" cy="396.76" r="3"/><circle cx="419.1" cy="447.12" r="3"/><circle cx="423.63" cy="462.13" r="3"/><circle cx="420.99" cy="440.15" r="3"/><circle cx="419.26" cy="448.2" r="3"/><circle cx="422.15" cy="425.06" r="3"/><circle cx="423.01" cy="414.28" r="3"/><circle cx="423.95" cy="428.7" r="3"/><circle cx="421.24" cy="459.79" r="3"/><circle cx="424.46" cy="463.56" r="3"/><circle cx="417.74" cy="391.17" r="3"/><circle cx="420.05" cy="434.68" r="3"/><circle cx="418.18" cy="398.85" r="3"/><circle cx="420.02" cy="450.14" r="3"/><circle cx="423.58" cy="453.31" r="3"/><circle cx="421.58" cy="443.18" r="3"/><circle cx="424.47" cy="436.78" r="3"/><circle cx="419.06" cy="431.18" r="3"/><circle cx="423.69" cy="437.07" r="3"/><circle cx="424.15" cy="417.6" r="3"/><circle cx="420.81" cy="405.33" r="3"/><circle cx="419.32" cy="423.53" r="3"/><circle cx="421.26" cy="411.04" r="3"/></g>
<line x1="412.2" y1="414.7" x2="412.2" y2="433.8" stroke="#000" stroke-width="1.7" />
<circle cx="412.2" cy="425.6" r="2.9" fill="#fff" stroke="#000" stroke-width="1.3"/>
<polygon points="433.1,343.81 433.69,345.58 435.57,345.6 434.06,346.71 434.62,348.5 433.1,347.41 431.58,348.5 432.14,346.71 430.63,345.6 432.51,345.58" fill="#111" stroke="#111" stroke-width="0.15" stroke-linejoin="round"/>
<polygon points="439.1,343.81 439.69,345.58 441.57,345.6 440.06,346.71 440.62,348.5 439.1,347.41 437.58,348.5 438.14,346.71 436.63,345.6 438.51,345.58" fill="#111" stroke="#111" stroke-width="0.15" stroke-linejoin="round"/>
<path d="M467,313.8 L467.8,313.8 C468,320.43 468.52,341.33 469,353.6 C469.48,365.87 470.5,377.73 470.7,387.4 C470.9,397.07 470.42,403.55 470.2,411.6 C469.98,419.65 469.53,428.78 469.4,435.7 C469.27,442.62 469.4,450.2 469.4,453.1 L467,453.1 Z" fill="#b03545"/>
<g fill="#b03545" fill-opacity="0.4"><circle cx="459.3" cy="313.8" r="3"/><circle cx="461" cy="336.7" r="3"/><circle cx="461.7" cy="354.8" r="3"/><circle cx="461" cy="363.3" r="3"/><circle cx="459.8" cy="368.6" r="3"/><circle cx="460.3" cy="372.9" r="3"/><circle cx="458.6" cy="379" r="3"/><circle cx="461.7" cy="383.8" r="3"/><circle cx="459.8" cy="388.6" r="3"/><circle cx="462.2" cy="389.8" r="3"/><circle cx="458.6" cy="397.1" r="3"/><circle cx="461" cy="401.4" r="3"/><circle cx="460.3" cy="409.2" r="3"/><circle cx="459.3" cy="412.8" r="3"/><circle cx="461" cy="414" r="3"/><circle cx="459.3" cy="421.2" r="3"/><circle cx="460.3" cy="428.5" r="3"/><circle cx="461" cy="446.6" r="3"/><circle cx="459.3" cy="451.4" r="3"/><circle cx="462.3" cy="415.18" r="3"/><circle cx="459.17" cy="381.47" r="3"/><circle cx="461.46" cy="363.07" r="3"/><circle cx="459.72" cy="394.81" r="3"/><circle cx="460.6" cy="355.3" r="3"/><circle cx="457.93" cy="316.57" r="3"/><circle cx="460.12" cy="367.36" r="3"/><circle cx="460.38" cy="413.28" r="3"/><circle cx="458.48" cy="413.74" r="3"/><circle cx="460.46" cy="382.02" r="3"/></g>
<line x1="452.1" y1="389.4" x2="452.1" y2="416.4" stroke="#000" stroke-width="1.7" />
<circle cx="452.1" cy="404.3" r="2.9" fill="#fff" stroke="#000" stroke-width="1.3"/>
<path d="M526.2,329 L526.7,329 C526.7,343.97 526.58,401.82 526.7,418.8 C526.82,435.78 526.28,427.27 527.4,430.9 C528.52,434.53 531.38,437.78 533.4,440.6 C535.42,443.42 537.77,445.6 539.5,447.8 C541.23,450 543.6,451.98 543.8,453.8 C544,455.62 542.23,457.48 540.7,458.7 C539.17,459.92 536.38,460.55 534.6,461.1 C532.82,461.65 530.77,461.85 530,462 L526.2,462 Z" fill="#2364aa"/>
<g fill="#2364aa" fill-opacity="0.4"><circle cx="519.4" cy="328.7" r="3"/><circle cx="517.3" cy="374.9" r="3"/><circle cx="517.7" cy="397.6" r="3"/><circle cx="517.3" cy="418.8" r="3"/><circle cx="519.4" cy="426.1" r="3"/><circle cx="518.9" cy="430.9" r="3"/><circle cx="516.38" cy="461.18" r="3"/><circle cx="517.34" cy="453.77" r="3"/><circle cx="516.41" cy="461.86" r="3"/><circle cx="520.8" cy="458.41" r="3"/><circle cx="522.9" cy="457.69" r="3"/><circle cx="518.53" cy="437.74" r="3"/><circle cx="518.15" cy="452.87" r="3"/><circle cx="517.81" cy="438.51" r="3"/><circle cx="522.07" cy="457.71" r="3"/><circle cx="517.77" cy="455.76" r="3"/><circle cx="519.68" cy="459.87" r="3"/><circle cx="519.31" cy="437.47" r="3"/><circle cx="516.82" cy="443.56" r="3"/><circle cx="518.68" cy="448.24" r="3"/><circle cx="522.44" cy="448.4" r="3"/><circle cx="518.97" cy="450.85" r="3"/><circle cx="522.87" cy="457.89" r="3"/><circle cx="522.54" cy="445.84" r="3"/><circle cx="517.23" cy="430.61" r="3"/><circle cx="522.49" cy="435.56" r="3"/><circle cx="521.05" cy="452.3" r="3"/><circle cx="519.57" cy="439.26" r="3"/><circle cx="516.96" cy="458.65" r="3"/><circle cx="516.61" cy="433.75" r="3"/><circle cx="521.85" cy="445.14" r="3"/><circle cx="518.95" cy="447.93" r="3"/><circle cx="517.48" cy="446.22" r="3"/><circle cx="518.64" cy="460.62" r="3"/><circle cx="518.35" cy="437.6" r="3"/><circle cx="518.4" cy="456.65" r="3"/><circle cx="518.52" cy="459.23" r="3"/><circle cx="516.79" cy="444.26" r="3"/><circle cx="521.55" cy="459.31" r="3"/><circle cx="517.06" cy="445.32" r="3"/><circle cx="518.78" cy="445.91" r="3"/><circle cx="522.42" cy="457.13" r="3"/><circle cx="518.2" cy="453.94" r="3"/><circle cx="522.2" cy="431.34" r="3"/><circle cx="517.35" cy="460.51" r="3"/><circle cx="519.47" cy="446.15" r="3"/><circle cx="516.58" cy="461.54" r="3"/><circle cx="521.87" cy="431.99" r="3"/><circle cx="519.35" cy="448.4" r="3"/><circle cx="520.22" cy="455.12" r="3"/><circle cx="517.99" cy="452.37" r="3"/><circle cx="516.36" cy="432.74" r="3"/><circle cx="520.58" cy="440.76" r="3"/><circle cx="518.59" cy="442.27" r="3"/><circle cx="520.95" cy="449.98" r="3"/><circle cx="518.36" cy="449.23" r="3"/><circle cx="521.58" cy="456.54" r="3"/><circle cx="522.19" cy="458.86" r="3"/><circle cx="520.72" cy="430.49" r="3"/><circle cx="518.86" cy="441.24" r="3"/><circle cx="517.25" cy="446.73" r="3"/><circle cx="522.81" cy="438.06" r="3"/><circle cx="522.33" cy="440.69" r="3"/><circle cx="518.38" cy="452.11" r="3"/><circle cx="520.29" cy="440.29" r="3"/><circle cx="518.54" cy="452.68" r="3"/><circle cx="517.44" cy="431.91" r="3"/><circle cx="521.11" cy="457.8" r="3"/><circle cx="521.81" cy="433.5" r="3"/><circle cx="518.51" cy="448.6" r="3"/><circle cx="517.15" cy="458.87" r="3"/><circle cx="518.57" cy="433.17" r="3"/><circle cx="519.92" cy="453.83" r="3"/><circle cx="522.28" cy="445.64" r="3"/><circle cx="521.5" cy="442.72" r="3"/><circle cx="521.47" cy="430.15" r="3"/><circle cx="520.63" cy="435.02" r="3"/><circle cx="520.63" cy="457.08" r="3"/><circle cx="519.93" cy="448.7" r="3"/><circle cx="518.73" cy="454.27" r="3"/><circle cx="519.98" cy="437.54" r="3"/></g>
<line x1="511.2" y1="435.7" x2="511.2" y2="447.5" stroke="#000" stroke-width="1.7" />
<circle cx="511.2" cy="442.5" r="2.9" fill="#fff" stroke="#000" stroke-width="1.3"/>
<polygon points="528.2,359.01 528.79,360.78 530.67,360.8 529.16,361.91 529.72,363.7 528.2,362.61 526.68,363.7 527.24,361.91 525.73,360.8 527.61,360.78" fill="#111" stroke="#111" stroke-width="0.15" stroke-linejoin="round"/>
<polygon points="534.2,359.01 534.79,360.78 536.67,360.8 535.16,361.91 535.72,363.7 534.2,362.61 532.68,363.7 533.24,361.91 531.73,360.8 533.61,360.78" fill="#111" stroke="#111" stroke-width="0.15" stroke-linejoin="round"/>
<polygon points="540.2,359.01 540.79,360.78 542.67,360.8 541.16,361.91 541.72,363.7 540.2,362.61 538.68,363.7 539.24,361.91 537.73,360.8 539.61,360.78" fill="#111" stroke="#111" stroke-width="0.15" stroke-linejoin="round"/>
<path d="M565.5,341 L566.5,341 C566.55,347.13 566.48,368.45 566.8,377.8 C567.12,387.15 567.72,390.67 568.4,397.1 C569.08,403.53 570.57,409.97 570.9,416.4 C571.23,422.83 570.88,429.67 570.4,435.7 C569.92,441.73 568.65,448.77 568,452.6 C567.35,456.43 566.75,457.68 566.5,458.7 L565.5,458.7 Z" fill="#b03545"/>
<g fill="#b03545" fill-opacity="0.4"><circle cx="558.8" cy="340.3" r="3"/><circle cx="557.6" cy="344" r="3"/><circle cx="560" cy="355.5" r="3"/><circle cx="556.9" cy="367.6" r="3"/><circle cx="556.9" cy="373.4" r="3"/><circle cx="557.6" cy="382.6" r="3"/><circle cx="559.3" cy="395.2" r="3"/><circle cx="556.4" cy="398.3" r="3"/><circle cx="557.6" cy="403.1" r="3"/><circle cx="559.3" cy="406.7" r="3"/><circle cx="558.3" cy="412.8" r="3"/><circle cx="560.7" cy="412.8" r="3"/><circle cx="559.3" cy="421.2" r="3"/><circle cx="557.6" cy="426.1" r="3"/><circle cx="559.3" cy="433.3" r="3"/><circle cx="557.6" cy="436.9" r="3"/><circle cx="560" cy="440.6" r="3"/><circle cx="556.9" cy="447.3" r="3"/><circle cx="560.7" cy="447.3" r="3"/><circle cx="556.9" cy="458.7" r="3"/><circle cx="559.92" cy="341.69" r="3"/><circle cx="556.07" cy="395.34" r="3"/><circle cx="557.82" cy="370.5" r="3"/><circle cx="556.41" cy="380.48" r="3"/><circle cx="560.47" cy="354.48" r="3"/><circle cx="558.69" cy="344.49" r="3"/><circle cx="560.76" cy="423.88" r="3"/><circle cx="557.98" cy="382.06" r="3"/><circle cx="559.14" cy="431.76" r="3"/><circle cx="558.69" cy="379.83" r="3"/><circle cx="557.89" cy="345.81" r="3"/><circle cx="556.86" cy="382.09" r="3"/><circle cx="559.55" cy="358.45" r="3"/></g>
<line x1="551.1" y1="406.7" x2="551.1" y2="427.3" stroke="#000" stroke-width="1.7" />
<circle cx="551.1" cy="418.1" r="2.9" fill="#fff" stroke="#000" stroke-width="1.3"/>
<path d="M624.6,302.9 L625.6,302.9 C625.6,312.15 625.4,343.1 625.6,358.4 C625.8,373.7 626.2,385.03 626.8,394.7 C627.4,404.37 628.6,410.37 629.2,416.4 C629.8,422.43 630.32,426.07 630.4,430.9 C630.48,435.73 630.3,440.17 629.7,445.4 C629.1,450.63 627.28,459.48 626.8,462.3 L624.6,462.3 Z" fill="#2364aa"/>
<g fill="#2364aa" fill-opacity="0.4"><circle cx="615.9" cy="302.4" r="3"/><circle cx="617.1" cy="307.7" r="3"/><circle cx="615.9" cy="327.1" r="3"/><circle cx="617.1" cy="330.7" r="3"/><circle cx="617.6" cy="355.3" r="3"/><circle cx="616.7" cy="373.4" r="3"/><circle cx="617.9" cy="377.8" r="3"/><circle cx="619.6" cy="385" r="3"/><circle cx="616.4" cy="390.3" r="3"/><circle cx="617.9" cy="397.1" r="3"/><circle cx="616.4" cy="408" r="3"/><circle cx="618.4" cy="408.7" r="3"/><circle cx="616.7" cy="417.6" r="3"/><circle cx="619.1" cy="420" r="3"/><circle cx="615.9" cy="427.3" r="3"/><circle cx="617.9" cy="430.4" r="3"/><circle cx="615.9" cy="438.1" r="3"/><circle cx="618.4" cy="440.6" r="3"/><circle cx="620" cy="444.2" r="3"/><circle cx="616.7" cy="452.6" r="3"/><circle cx="618.4" cy="455" r="3"/><circle cx="617.1" cy="463.5" r="3"/><circle cx="617" cy="424" r="3"/><circle cx="618" cy="434" r="3"/><circle cx="616.5" cy="447" r="3"/><circle cx="618" cy="398" r="3"/><circle cx="617" cy="412" r="3"/><circle cx="619.55" cy="445.94" r="3"/><circle cx="615.34" cy="304.01" r="3"/><circle cx="615.78" cy="410.1" r="3"/><circle cx="617.45" cy="371.29" r="3"/><circle cx="616.79" cy="466.09" r="3"/><circle cx="619.45" cy="421.98" r="3"/><circle cx="619.04" cy="432.92" r="3"/></g>
<line x1="609.9" y1="408.7" x2="609.9" y2="432.1" stroke="#000" stroke-width="1.7" />
<circle cx="609.9" cy="422" r="2.9" fill="#fff" stroke="#000" stroke-width="1.3"/>
<path d="M663.8,330.7 L665,330.7 C665.07,337.33 665.12,360.65 665.4,370.5 C665.68,380.35 666.08,382.95 666.7,389.8 C667.32,396.65 668.58,405.55 669.1,411.6 C669.62,417.65 670,420.87 669.8,426.1 C669.6,431.33 668.63,437.45 667.9,443 C667.17,448.55 665.82,456.67 665.4,459.4 L663.8,459.4 Z" fill="#b03545"/>
<g fill="#b03545" fill-opacity="0.4"><circle cx="657.7" cy="330.7" r="3"/><circle cx="657" cy="360.9" r="3"/><circle cx="656.3" cy="396.6" r="3"/><circle cx="658.2" cy="397.1" r="3"/><circle cx="655.3" cy="404.8" r="3"/><circle cx="657" cy="412.8" r="3"/><circle cx="658.7" cy="418.8" r="3"/><circle cx="656.3" cy="423.2" r="3"/><circle cx="657.7" cy="426.5" r="3"/><circle cx="658.7" cy="432.1" r="3"/><circle cx="657.7" cy="437.7" r="3"/><circle cx="655.8" cy="440.6" r="3"/><circle cx="657.7" cy="459.4" r="3"/></g>
<line x1="649.3" y1="387" x2="649.3" y2="430.4" stroke="#000" stroke-width="1.7" />
<circle cx="649.3" cy="413.3" r="2.9" fill="#fff" stroke="#000" stroke-width="1.3"/>
<line x1="41.5" y1="557.3" x2="41.5" y2="714.5" stroke="#6e6e6e" stroke-width="1" />
<line x1="41" y1="714.5" x2="685" y2="714.5" stroke="#6e6e6e" stroke-width="1" />
<line x1="37.5" y1="557.8" x2="41.5" y2="557.8" stroke="#6e6e6e" stroke-width="1" />
<text x="33.6" y="561.4" font-size="10.2" text-anchor="end" font-weight="normal" fill="#1a1a1a" >2</text>
<line x1="37.5" y1="596.2" x2="41.5" y2="596.2" stroke="#6e6e6e" stroke-width="1" />
<text x="33.6" y="599.8" font-size="10.2" text-anchor="end" font-weight="normal" fill="#1a1a1a" >1</text>
<line x1="37.5" y1="640.2" x2="41.5" y2="640.2" stroke="#6e6e6e" stroke-width="1" />
<text x="33.6" y="643.8" font-size="10.2" text-anchor="end" font-weight="normal" fill="#1a1a1a" >0</text>
<line x1="37.5" y1="668.3" x2="41.5" y2="668.3" stroke="#6e6e6e" stroke-width="1" />
<text x="33.6" y="671.9" font-size="10.2" text-anchor="end" font-weight="normal" fill="#1a1a1a" >−1</text>
<line x1="37.5" y1="704.6" x2="41.5" y2="704.6" stroke="#6e6e6e" stroke-width="1" />
<text x="33.6" y="708.2" font-size="10.2" text-anchor="end" font-weight="normal" fill="#1a1a1a" >−2</text>
<text transform="translate(17.0,638.3) rotate(-90)" font-size="11.6" text-anchor="middle" fill="#1a1a1a" textLength="85.6" lengthAdjust="spacingAndGlyphs">Land-use effects</text>
<line x1="41.5" y1="640.4" x2="685" y2="640.4" stroke="#111" stroke-width="1" stroke-dasharray="3.4 3.32"/>
<line x1="105.4" y1="714.5" x2="105.4" y2="718.2" stroke="#6e6e6e" stroke-width="1" />
<text x="105.7" y="733.1" font-size="11.2" text-anchor="middle" font-weight="normal" fill="#1a1a1a"  textLength="36.2" lengthAdjust="spacingAndGlyphs">Overall</text>
<line x1="259" y1="714.5" x2="259" y2="718.2" stroke="#6e6e6e" stroke-width="1" />
<text x="258.9" y="733.1" font-size="11.2" text-anchor="middle" font-weight="normal" fill="#1a1a1a"  textLength="54.3" lengthAdjust="spacingAndGlyphs">Herbivores</text>
<line x1="351" y1="714.5" x2="351" y2="718.2" stroke="#6e6e6e" stroke-width="1" />
<text x="351.4" y="733.1" font-size="11.2" text-anchor="middle" font-weight="normal" fill="#1a1a1a"  textLength="58" lengthAdjust="spacingAndGlyphs">Detritivores</text>
<line x1="443.8" y1="714.5" x2="443.8" y2="718.2" stroke="#6e6e6e" stroke-width="1" />
<text x="444.2" y="733.1" font-size="11.2" text-anchor="middle" font-weight="normal" fill="#1a1a1a"  textLength="65.8" lengthAdjust="spacingAndGlyphs">Microbivores</text>
<line x1="536.4" y1="714.5" x2="536.4" y2="718.2" stroke="#6e6e6e" stroke-width="1" />
<text x="536.4" y="733.1" font-size="11.2" text-anchor="middle" font-weight="normal" fill="#1a1a1a"  textLength="47.8" lengthAdjust="spacingAndGlyphs">Predators</text>
<line x1="629" y1="714.5" x2="629" y2="718.2" stroke="#6e6e6e" stroke-width="1" />
<text x="629.7" y="733.1" font-size="11.2" text-anchor="middle" font-weight="normal" fill="#1a1a1a"  textLength="71.4" lengthAdjust="spacingAndGlyphs">Mixed feeders</text>
<line x1="93" y1="600.8" x2="93" y2="638.9" stroke="#2364aa" stroke-width="2.7" />
<circle cx="93" cy="622.6" r="3.1" fill="#2364aa"/>
<line x1="121.3" y1="613.2" x2="121.3" y2="644.7" stroke="#b03545" stroke-width="2.7" />
<circle cx="121.3" cy="630.3" r="3.1" fill="#b03545"/>
<line x1="247.3" y1="606.8" x2="247.3" y2="689.6" stroke="#2364aa" stroke-width="2.7" />
<circle cx="247.3" cy="648.2" r="3.1" fill="#2364aa"/>
<line x1="270.6" y1="624.6" x2="270.6" y2="666.9" stroke="#b03545" stroke-width="2.7" />
<circle cx="270.6" cy="645.7" r="3.1" fill="#b03545"/>
<line x1="340.2" y1="592.1" x2="340.2" y2="629.8" stroke="#2364aa" stroke-width="2.7" />
<circle cx="340.2" cy="610.8" r="3.1" fill="#2364aa"/>
<line x1="363.2" y1="624.6" x2="363.2" y2="660.4" stroke="#b03545" stroke-width="2.7" />
<circle cx="363.2" cy="642.7" r="3.1" fill="#b03545"/>
<line x1="432.7" y1="606.3" x2="432.7" y2="640.6" stroke="#2364aa" stroke-width="2.7" />
<circle cx="432.7" cy="623.5" r="3.1" fill="#2364aa"/>
<line x1="455.6" y1="598.1" x2="455.6" y2="630.1" stroke="#b03545" stroke-width="2.7" />
<circle cx="455.6" cy="614.4" r="3.1" fill="#b03545"/>
<line x1="525.4" y1="588" x2="525.4" y2="625.9" stroke="#2364aa" stroke-width="2.7" />
<circle cx="525.4" cy="606.7" r="3.1" fill="#2364aa"/>
<line x1="548.3" y1="610.9" x2="548.3" y2="642.2" stroke="#b03545" stroke-width="2.7" />
<circle cx="548.3" cy="627.3" r="3.1" fill="#b03545"/>
<line x1="617.8" y1="619.9" x2="617.8" y2="658.3" stroke="#2364aa" stroke-width="2.7" />
<circle cx="617.8" cy="639.2" r="3.1" fill="#2364aa"/>
<line x1="640.9" y1="587.9" x2="640.9" y2="646.8" stroke="#b03545" stroke-width="2.7" />
<circle cx="640.9" cy="617.8" r="3.1" fill="#b03545"/>
<polygon points="93.3,586.11 93.89,587.88 95.77,587.9 94.26,589.01 94.82,590.8 93.3,589.71 91.78,590.8 92.34,589.01 90.83,587.9 92.71,587.88" fill="#2364aa" stroke="#2364aa" stroke-width="0.15" stroke-linejoin="round"/>
<text x="121.2" y="606.2" font-size="13.2" text-anchor="middle" font-weight="normal" fill="#b03545"  textLength="12.8" lengthAdjust="spacingAndGlyphs">(*)</text>
<polygon points="337.45,574.11 338.04,575.88 339.92,575.9 338.41,577.01 338.97,578.8 337.45,577.71 335.93,578.8 336.49,577.01 334.98,575.9 336.86,575.88" fill="#2364aa" stroke="#2364aa" stroke-width="0.15" stroke-linejoin="round"/>
<polygon points="342.95,574.11 343.54,575.88 345.42,575.9 343.91,577.01 344.47,578.8 342.95,577.71 341.43,578.8 341.99,577.01 340.48,575.9 342.36,575.88" fill="#2364aa" stroke="#2364aa" stroke-width="0.15" stroke-linejoin="round"/>
<text x="432.7" y="597.5" font-size="13.5" text-anchor="middle" font-weight="normal" fill="#2364aa"  textLength="15" lengthAdjust="spacingAndGlyphs">(*)</text>
<polygon points="453.35,580.81 453.94,582.58 455.82,582.6 454.31,583.71 454.87,585.5 453.35,584.41 451.83,585.5 452.39,583.71 450.88,582.6 452.76,582.58" fill="#b03545" stroke="#b03545" stroke-width="0.15" stroke-linejoin="round"/>
<polygon points="458.85,580.81 459.44,582.58 461.32,582.6 459.81,583.71 460.37,585.5 458.85,584.41 457.33,585.5 457.89,583.71 456.38,582.6 458.26,582.58" fill="#b03545" stroke="#b03545" stroke-width="0.15" stroke-linejoin="round"/>
<polygon points="520.6,569.51 521.19,571.28 523.07,571.3 521.56,572.41 522.12,574.2 520.6,573.11 519.08,574.2 519.64,572.41 518.13,571.3 520.01,571.28" fill="#2364aa" stroke="#2364aa" stroke-width="0.15" stroke-linejoin="round"/>
<polygon points="526.1,569.51 526.69,571.28 528.57,571.3 527.06,572.41 527.62,574.2 526.1,573.11 524.58,574.2 525.14,572.41 523.63,571.3 525.51,571.28" fill="#2364aa" stroke="#2364aa" stroke-width="0.15" stroke-linejoin="round"/>
<polygon points="531.6,569.51 532.19,571.28 534.07,571.3 532.56,572.41 533.12,574.2 531.6,573.11 530.08,574.2 530.64,572.41 529.13,571.3 531.01,571.28" fill="#2364aa" stroke="#2364aa" stroke-width="0.15" stroke-linejoin="round"/>
<text x="144.8" y="759" font-size="10.5" text-anchor="start" font-weight="normal" fill="#1a1a1a" >Land use</text>
<rect x="198.2" y="751.1" width="9.9" height="9.5" fill="#006600"/>
<text x="213.6" y="759.6" font-size="9.6" text-anchor="start" font-weight="normal" fill="#1a1a1a" >Woodland</text>
<rect x="274.4" y="751.1" width="9.5" height="9.5" fill="#f5a536"/>
<text x="290" y="759.6" font-size="9.8" text-anchor="start" font-weight="normal" fill="#1a1a1a"  textLength="48.2" lengthAdjust="spacingAndGlyphs">Agriculture</text>
<text x="389.9" y="758.6" font-size="11" text-anchor="start" font-weight="normal" fill="#1a1a1a"  textLength="80" lengthAdjust="spacingAndGlyphs">Climate regions</text>
<rect x="479.6" y="751.3" width="9.3" height="9.5" fill="#2364aa"/>
<text x="494.3" y="759.3" font-size="9.3" text-anchor="start" font-weight="normal" fill="#1a1a1a" >Temperate</text>
<rect x="557.3" y="751.2" width="9.6" height="9.6" fill="#b03545"/>
<text x="573" y="759.3" font-size="9.3" text-anchor="start" font-weight="normal" fill="#1a1a1a" >Tropical</text>
</svg>
</body></html>
